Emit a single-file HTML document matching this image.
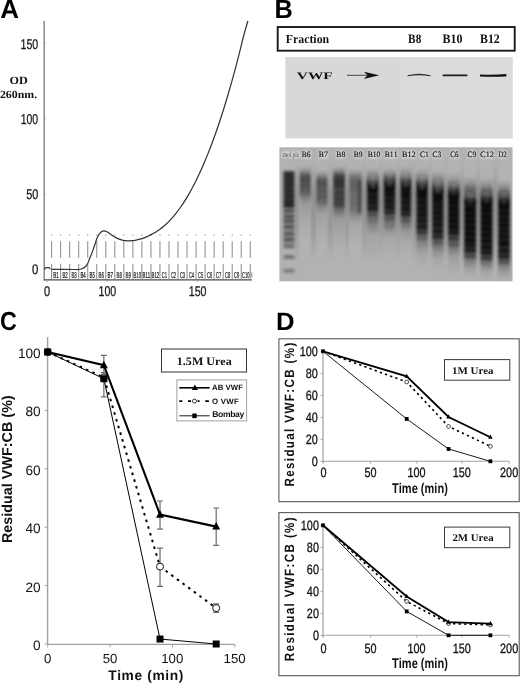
<!DOCTYPE html>
<html><head><meta charset="utf-8"><style>
html,body{margin:0;padding:0;background:#fff;width:520px;height:684px;overflow:hidden}
svg{display:block;filter:grayscale(1)}
text{font-kerning:none;font-variant-ligatures:none;text-rendering:geometricPrecision}
</style></head><body>
<svg width="520" height="684" viewBox="0 0 520 684">
<defs>
<filter id="lb" x="-30%" y="-30%" width="160%" height="160%"><feGaussianBlur stdDeviation="1.3 1.1"/></filter>
<filter id="lb2" x="-30%" y="-30%" width="160%" height="160%"><feGaussianBlur stdDeviation="1.8 1.5"/></filter>
<filter id="lb3" x="-30%" y="-30%" width="160%" height="160%"><feGaussianBlur stdDeviation="1.6 1.6"/></filter>
<filter id="bb" x="-20%" y="-100%" width="140%" height="300%"><feGaussianBlur stdDeviation="0.45"/></filter>
</defs>
<text transform="translate(0.25,17.6) scale(0.09858,0.100)" style="font-family:'Liberation Sans',sans-serif;font-size:263.09px;font-weight:bold;" fill="#000">A</text>
<line x1="44.2" y1="21" x2="44.2" y2="280.5" stroke="#8c8c8c" stroke-width="1.5"/>
<text transform="translate(20.6,48.76) scale(0.07476,0.100)" style="font-family:'Liberation Sans',sans-serif;font-size:141.24px;" fill="#1a1a1a" stroke="#1a1a1a" stroke-width="3">150</text>
<text transform="translate(20.7,123.86) scale(0.07356,0.100)" style="font-family:'Liberation Sans',sans-serif;font-size:142.65px;" fill="#1a1a1a" stroke="#1a1a1a" stroke-width="3">100</text>
<text transform="translate(26.17,199.26) scale(0.07675,0.100)" style="font-family:'Liberation Sans',sans-serif;font-size:141.24px;" fill="#1a1a1a" stroke="#1a1a1a" stroke-width="3">50</text>
<text transform="translate(32.06,274.06) scale(0.08161,0.100)" style="font-family:'Liberation Sans',sans-serif;font-size:138.42px;" fill="#1a1a1a" stroke="#1a1a1a" stroke-width="3">0</text>
<line x1="43" y1="43.4" x2="46" y2="43.4" stroke="#aaa" stroke-width="0.8"/>
<line x1="43" y1="118.8" x2="46" y2="118.8" stroke="#aaa" stroke-width="0.8"/>
<line x1="43" y1="194.3" x2="46" y2="194.3" stroke="#aaa" stroke-width="0.8"/>
<line x1="43" y1="269.3" x2="46" y2="269.3" stroke="#aaa" stroke-width="0.8"/>
<text transform="translate(9.4,84.19) scale(0.10924,0.100)" style="font-family:'Liberation Serif',serif;font-size:111.63px;font-weight:bold;" fill="#111">OD</text>
<text transform="translate(-0.1,98.14) scale(0.10737,0.100)" style="font-family:'Liberation Serif',serif;font-size:110.42px;font-weight:bold;" fill="#111">260nm.</text>
<line x1="44" y1="279.8" x2="251.8" y2="279.8" stroke="#4a4a4a" stroke-width="1.2"/>
<rect x="251.1" y="272.5" width="1.4" height="5" fill="#aaa"/>
<text transform="translate(44.07,295.76) scale(0.07850,0.100)" style="font-family:'Liberation Sans',sans-serif;font-size:141.24px;" fill="#1a1a1a" stroke="#1a1a1a" stroke-width="3">0</text>
<text transform="translate(98.49,295.76) scale(0.07447,0.100)" style="font-family:'Liberation Sans',sans-serif;font-size:142.65px;" fill="#1a1a1a" stroke="#1a1a1a" stroke-width="3">100</text>
<text transform="translate(188.79,295.76) scale(0.07521,0.100)" style="font-family:'Liberation Sans',sans-serif;font-size:141.24px;" fill="#1a1a1a" stroke="#1a1a1a" stroke-width="3">150</text>
<line x1="47.1" y1="280" x2="47.1" y2="282" stroke="#999" stroke-width="0.8"/>
<line x1="107.1" y1="280" x2="107.1" y2="282" stroke="#999" stroke-width="0.8"/>
<line x1="197.5" y1="280" x2="197.5" y2="282" stroke="#999" stroke-width="0.8"/>
<path d="M51.6,234.4V235.8M51.6,241.2V257.8M51.6,264V279.3M60.63,234.4V235.8M60.63,241.2V257.8M60.63,264V279.3M69.66,234.4V235.8M69.66,241.2V257.8M69.66,264V279.3M78.69,234.4V235.8M78.69,241.2V257.8M78.69,264V279.3M87.72,234.4V235.8M87.72,241.2V257.8M87.72,264V279.3M96.75,234.4V235.8M96.75,241.2V257.8M96.75,264V279.3M105.78,234.4V235.8M105.78,241.2V257.8M105.78,264V279.3M114.81,234.4V235.8M114.81,241.2V257.8M114.81,264V279.3M123.84,234.4V235.8M123.84,241.2V257.8M123.84,264V279.3M132.87,234.4V235.8M132.87,241.2V257.8M132.87,264V279.3M141.9,234.4V235.8M141.9,241.2V257.8M141.9,264V279.3M150.93,234.4V235.8M150.93,241.2V257.8M150.93,264V279.3M159.96,234.4V235.8M159.96,241.2V257.8M159.96,264V279.3M168.99,234.4V235.8M168.99,241.2V257.8M168.99,264V279.3M178.02,234.4V235.8M178.02,241.2V257.8M178.02,264V279.3M187.05,234.4V235.8M187.05,241.2V257.8M187.05,264V279.3M196.08,234.4V235.8M196.08,241.2V257.8M196.08,264V279.3M205.11,234.4V235.8M205.11,241.2V257.8M205.11,264V279.3M214.14,234.4V235.8M214.14,241.2V257.8M214.14,264V279.3M223.17,234.4V235.8M223.17,241.2V257.8M223.17,264V279.3M232.2,234.4V235.8M232.2,241.2V257.8M232.2,264V279.3M241.23,234.4V235.8M241.23,241.2V257.8M241.23,264V279.3M250.26,234.4V235.8M250.26,241.2V257.8M250.26,264V279.3" stroke="#8e8e8e" stroke-width="1.05" fill="none"/>
<text transform="translate(53.35,277.6) scale(0.05039,0.100)" style="font-family:'Liberation Sans',sans-serif;font-size:87.21px;" fill="#1a1a1a" stroke="#1a1a1a" stroke-width="2.5">B1</text>
<text transform="translate(62.38,277.6) scale(0.05121,0.100)" style="font-family:'Liberation Sans',sans-serif;font-size:85.93px;" fill="#1a1a1a" stroke="#1a1a1a" stroke-width="2.5">B2</text>
<text transform="translate(71.42,277.52) scale(0.05162,0.100)" style="font-family:'Liberation Sans',sans-serif;font-size:84.74px;" fill="#1a1a1a" stroke="#1a1a1a" stroke-width="2.5">B3</text>
<text transform="translate(80.45,277.6) scale(0.04950,0.100)" style="font-family:'Liberation Sans',sans-serif;font-size:87.21px;" fill="#1a1a1a" stroke="#1a1a1a" stroke-width="2.5">B4</text>
<text transform="translate(89.48,277.52) scale(0.05079,0.100)" style="font-family:'Liberation Sans',sans-serif;font-size:85.99px;" fill="#1a1a1a" stroke="#1a1a1a" stroke-width="2.5">B5</text>
<text transform="translate(98.51,277.52) scale(0.05162,0.100)" style="font-family:'Liberation Sans',sans-serif;font-size:84.74px;" fill="#1a1a1a" stroke="#1a1a1a" stroke-width="2.5">B6</text>
<text transform="translate(107.53,277.6) scale(0.05046,0.100)" style="font-family:'Liberation Sans',sans-serif;font-size:87.21px;" fill="#1a1a1a" stroke="#1a1a1a" stroke-width="2.5">B7</text>
<text transform="translate(116.57,277.52) scale(0.05160,0.100)" style="font-family:'Liberation Sans',sans-serif;font-size:84.74px;" fill="#1a1a1a" stroke="#1a1a1a" stroke-width="2.5">B8</text>
<text transform="translate(125.59,277.52) scale(0.05179,0.100)" style="font-family:'Liberation Sans',sans-serif;font-size:84.74px;" fill="#1a1a1a" stroke="#1a1a1a" stroke-width="2.5">B9</text>
<text transform="translate(133.54,277.52) scale(0.04981,0.100)" style="font-family:'Liberation Sans',sans-serif;font-size:84.74px;" fill="#1a1a1a" stroke="#1a1a1a" stroke-width="2.5">B10</text>
<text transform="translate(142.57,277.6) scale(0.04869,0.100)" style="font-family:'Liberation Sans',sans-serif;font-size:87.21px;" fill="#1a1a1a" stroke="#1a1a1a" stroke-width="2.5">B11</text>
<text transform="translate(151.6,277.6) scale(0.04946,0.100)" style="font-family:'Liberation Sans',sans-serif;font-size:85.93px;" fill="#1a1a1a" stroke="#1a1a1a" stroke-width="2.5">B12</text>
<text transform="translate(161.87,277.52) scale(0.04805,0.100)" style="font-family:'Liberation Sans',sans-serif;font-size:84.74px;" fill="#1a1a1a" stroke="#1a1a1a" stroke-width="2.5">C1</text>
<text transform="translate(170.9,277.52) scale(0.04811,0.100)" style="font-family:'Liberation Sans',sans-serif;font-size:84.74px;" fill="#1a1a1a" stroke="#1a1a1a" stroke-width="2.5">C2</text>
<text transform="translate(179.93,277.52) scale(0.04785,0.100)" style="font-family:'Liberation Sans',sans-serif;font-size:84.74px;" fill="#1a1a1a" stroke="#1a1a1a" stroke-width="2.5">C3</text>
<text transform="translate(188.96,277.52) scale(0.04727,0.100)" style="font-family:'Liberation Sans',sans-serif;font-size:84.74px;" fill="#1a1a1a" stroke="#1a1a1a" stroke-width="2.5">C4</text>
<text transform="translate(197.99,277.52) scale(0.04778,0.100)" style="font-family:'Liberation Sans',sans-serif;font-size:84.74px;" fill="#1a1a1a" stroke="#1a1a1a" stroke-width="2.5">C5</text>
<text transform="translate(207.02,277.52) scale(0.04785,0.100)" style="font-family:'Liberation Sans',sans-serif;font-size:84.74px;" fill="#1a1a1a" stroke="#1a1a1a" stroke-width="2.5">C6</text>
<text transform="translate(216.05,277.52) scale(0.04811,0.100)" style="font-family:'Liberation Sans',sans-serif;font-size:84.74px;" fill="#1a1a1a" stroke="#1a1a1a" stroke-width="2.5">C7</text>
<text transform="translate(225.08,277.52) scale(0.04784,0.100)" style="font-family:'Liberation Sans',sans-serif;font-size:84.74px;" fill="#1a1a1a" stroke="#1a1a1a" stroke-width="2.5">C8</text>
<text transform="translate(234.11,277.52) scale(0.04799,0.100)" style="font-family:'Liberation Sans',sans-serif;font-size:84.74px;" fill="#1a1a1a" stroke="#1a1a1a" stroke-width="2.5">C9</text>
<text transform="translate(242.04,277.52) scale(0.04735,0.100)" style="font-family:'Liberation Sans',sans-serif;font-size:84.74px;" fill="#1a1a1a" stroke="#1a1a1a" stroke-width="2.5">C10</text>
<path d="M44.4,269.3 C44.7,267.9 45.3,267.7 46.5,267.7 L48.8,267.7 C49.5,267.8 49.8,268.4 50.2,269.2" fill="none" stroke="#333" stroke-width="1.2"/>
<path d="M51.3,269.3 C55.25,269.33 70.42,269.47 75,269.5 C79.58,269.53 77.52,269.67 78.8,269.5 C80.08,269.33 81.53,269.05 82.7,268.5 C83.87,267.95 84.97,267.03 85.8,266.2 C86.63,265.37 87.13,264.6 87.7,263.5 C88.27,262.4 88.68,260.88 89.2,259.6 C89.72,258.32 90.28,257.08 90.8,255.8 C91.32,254.52 91.8,253.25 92.3,251.9 C92.8,250.55 93.28,249.17 93.8,247.7 C94.32,246.23 94.88,244.63 95.4,243.1 C95.92,241.57 96.33,239.92 96.9,238.5 C97.47,237.08 98.08,235.7 98.8,234.6 C99.52,233.5 100.37,232.53 101.2,231.9 C102.03,231.27 102.92,230.87 103.8,230.8 C104.68,230.73 105.53,231.05 106.5,231.5 C107.47,231.95 108.43,232.72 109.6,233.5 C110.77,234.28 112.02,235.3 113.5,236.2 C114.98,237.1 116.9,238.22 118.5,238.9 C120.1,239.58 121.57,239.98 123.1,240.3 C124.63,240.62 126.22,240.73 127.7,240.8 C129.18,240.87 130.62,240.82 132,240.7 C133.38,240.58 134.67,240.33 136,240.07 C137.33,239.81 138.67,239.51 140,239.15 C141.33,238.78 142.67,238.36 144,237.87 C145.33,237.39 146.67,236.84 148,236.22 C149.33,235.6 150.67,234.87 152,234.16 C153.33,233.44 154.67,232.74 156,231.92 C157.33,231.09 158.67,230.2 160,229.21 C161.33,228.23 162.67,227.17 164,226.03 C165.33,224.88 166.67,223.65 168,222.33 C169.33,221.01 170.67,219.61 172,218.11 C173.33,216.61 174.67,215.02 176,213.34 C177.33,211.66 178.67,209.88 180,208.01 C181.33,206.14 182.67,204.17 184,202.1 C185.33,200.03 186.67,197.87 188,195.6 C189.33,193.33 190.67,190.96 192,188.48 C193.33,186.01 194.67,183.43 196,180.74 C197.33,178.05 198.67,175.26 200,172.36 C201.33,169.46 202.67,166.45 204,163.33 C205.33,160.21 206.67,156.98 208,153.64 C209.33,150.29 210.67,146.83 212,143.26 C213.33,139.69 214.67,136 216,132.2 C217.33,128.39 218.67,124.47 220,120.43 C221.33,116.39 222.67,112.23 224,107.95 C225.33,103.67 226.67,99.27 228,94.74 C229.33,90.22 230.67,85.57 232,80.8 C233.33,76.03 234.67,71.13 236,66.11 C237.33,61.09 238.67,55.94 240,50.66 C241.33,45.39 242.68,39.41 244,34.45 C245.32,29.49 247.25,23.16 247.9,20.9" fill="none" stroke="#353535" stroke-width="1.25"/>
<text transform="translate(274.61,17.7) scale(0.09545,0.100)" style="font-family:'Liberation Sans',sans-serif;font-size:264.54px;font-weight:bold;" fill="#000">B</text>
<rect x="277.7" y="27" width="237" height="23.7" fill="none" stroke="#1a1a1a" stroke-width="1.9"/>
<text transform="translate(285.7,42.9) scale(0.09589,0.100)" style="font-family:'Liberation Serif',serif;font-size:123.7px;font-weight:bold;" fill="#111">Fraction</text>
<text transform="translate(408.11,43.26) scale(0.08727,0.100)" style="font-family:'Liberation Serif',serif;font-size:129.24px;font-weight:bold;" fill="#111">B8</text>
<text transform="translate(442.5,43.26) scale(0.09311,0.100)" style="font-family:'Liberation Serif',serif;font-size:129.24px;font-weight:bold;" fill="#111">B10</text>
<text transform="translate(480,43.26) scale(0.09194,0.100)" style="font-family:'Liberation Serif',serif;font-size:129.24px;font-weight:bold;" fill="#111">B12</text>
<rect x="285.3" y="57" width="227.2" height="81.3" fill="#d8d8d8"/>
<rect x="400" y="58" width="112.5" height="80.3" fill="#dbdbdb"/>
<text transform="translate(296.83,78.6) scale(0.15276,0.100)" style="font-family:'Liberation Serif',serif;font-size:100.76px;font-weight:bold;" fill="#111">VWF</text>
<line x1="347" y1="75.3" x2="370" y2="75.3" stroke="#222" stroke-width="0.8"/>
<path d="M363.8,71.7 L379.2,75.3 L363.8,79 L367.6,75.3 Z" fill="#111"/>
<g filter="url(#bb)">
<path d="M407.5,75.3 Q419,72.2 430.5,75.3 L430.5,76.3 Q419,74.4 407.5,76.3 Z" fill="#2a2a2a"/>
<rect x="442.5" y="74.4" width="25" height="1.9" rx="0.9" fill="#1c1c1c"/>
<path d="M480,74.4 Q493,75.0 506.3,74.1 L506.3,76.4 Q493,77.3 480,76.4 Z" fill="#111"/>
</g>
<rect x="279.4" y="147.3" width="233.1" height="134" fill="#b2b2b2"/>
<defs><style>stop{stop-color:#000}</style><linearGradient id="g0" x1="0" y1="166" x2="0" y2="240" gradientUnits="userSpaceOnUse"><stop offset="0" stop-opacity="0"/><stop offset="0.01" stop-opacity="0.04"/><stop offset="0.03" stop-opacity="0.08"/><stop offset="0.04" stop-opacity="0.12"/><stop offset="0.05" stop-opacity="0.16"/><stop offset="0.07" stop-opacity="0.2"/><stop offset="0.08" stop-opacity="0.28"/><stop offset="0.09" stop-opacity="0.35"/><stop offset="0.11" stop-opacity="0.42"/><stop offset="0.12" stop-opacity="0.5"/><stop offset="0.14" stop-opacity="0.52"/><stop offset="0.15" stop-opacity="0.53"/><stop offset="0.16" stop-opacity="0.55"/><stop offset="0.18" stop-opacity="0.56"/><stop offset="0.19" stop-opacity="0.58"/><stop offset="0.2" stop-opacity="0.57"/><stop offset="0.22" stop-opacity="0.52"/><stop offset="0.23" stop-opacity="0.48"/><stop offset="0.24" stop-opacity="0.51"/><stop offset="0.26" stop-opacity="0.55"/><stop offset="0.27" stop-opacity="0.56"/><stop offset="0.28" stop-opacity="0.55"/><stop offset="0.3" stop-opacity="0.5"/><stop offset="0.31" stop-opacity="0.46"/><stop offset="0.32" stop-opacity="0.5"/><stop offset="0.34" stop-opacity="0.5"/><stop offset="0.35" stop-opacity="0.48"/><stop offset="0.36" stop-opacity="0.44"/><stop offset="0.38" stop-opacity="0.41"/><stop offset="0.39" stop-opacity="0.37"/><stop offset="0.41" stop-opacity="0.34"/><stop offset="0.42" stop-opacity="0.3"/><stop offset="0.43" stop-opacity="0.28"/><stop offset="0.45" stop-opacity="0.26"/><stop offset="0.46" stop-opacity="0.23"/><stop offset="0.47" stop-opacity="0.21"/><stop offset="0.49" stop-opacity="0.19"/><stop offset="0.5" stop-opacity="0.16"/><stop offset="0.51" stop-opacity="0.14"/><stop offset="0.53" stop-opacity="0.12"/><stop offset="0.54" stop-opacity="0.12"/><stop offset="0.55" stop-opacity="0.11"/><stop offset="0.57" stop-opacity="0.11"/><stop offset="0.58" stop-opacity="0.1"/><stop offset="0.59" stop-opacity="0.1"/><stop offset="0.61" stop-opacity="0.1"/><stop offset="0.62" stop-opacity="0.09"/><stop offset="0.64" stop-opacity="0.09"/><stop offset="0.65" stop-opacity="0.08"/><stop offset="0.66" stop-opacity="0.08"/><stop offset="0.68" stop-opacity="0.08"/><stop offset="0.69" stop-opacity="0.07"/><stop offset="0.7" stop-opacity="0.07"/><stop offset="0.72" stop-opacity="0.06"/><stop offset="0.73" stop-opacity="0.06"/><stop offset="0.74" stop-opacity="0.06"/><stop offset="0.76" stop-opacity="0.05"/><stop offset="0.77" stop-opacity="0.05"/><stop offset="0.78" stop-opacity="0.04"/><stop offset="0.8" stop-opacity="0.04"/><stop offset="0.81" stop-opacity="0.04"/><stop offset="0.82" stop-opacity="0.03"/><stop offset="0.84" stop-opacity="0.03"/><stop offset="0.85" stop-opacity="0.03"/><stop offset="0.86" stop-opacity="0.03"/><stop offset="0.88" stop-opacity="0.02"/><stop offset="0.89" stop-opacity="0.02"/><stop offset="0.91" stop-opacity="0.02"/><stop offset="0.92" stop-opacity="0.02"/><stop offset="0.93" stop-opacity="0.01"/><stop offset="0.95" stop-opacity="0.01"/><stop offset="0.96" stop-opacity="0.01"/><stop offset="0.97" stop-opacity="0.01"/><stop offset="0.99" stop-opacity="0"/><stop offset="1" stop-opacity="0"/></linearGradient><linearGradient id="g1" x1="0" y1="170" x2="0" y2="245" gradientUnits="userSpaceOnUse"><stop offset="0" stop-opacity="0"/><stop offset="0.01" stop-opacity="0.04"/><stop offset="0.03" stop-opacity="0.08"/><stop offset="0.04" stop-opacity="0.12"/><stop offset="0.05" stop-opacity="0.16"/><stop offset="0.07" stop-opacity="0.2"/><stop offset="0.08" stop-opacity="0.27"/><stop offset="0.09" stop-opacity="0.34"/><stop offset="0.11" stop-opacity="0.41"/><stop offset="0.12" stop-opacity="0.48"/><stop offset="0.13" stop-opacity="0.49"/><stop offset="0.15" stop-opacity="0.51"/><stop offset="0.16" stop-opacity="0.52"/><stop offset="0.17" stop-opacity="0.54"/><stop offset="0.19" stop-opacity="0.55"/><stop offset="0.2" stop-opacity="0.55"/><stop offset="0.21" stop-opacity="0.53"/><stop offset="0.23" stop-opacity="0.49"/><stop offset="0.24" stop-opacity="0.45"/><stop offset="0.25" stop-opacity="0.48"/><stop offset="0.27" stop-opacity="0.52"/><stop offset="0.28" stop-opacity="0.53"/><stop offset="0.29" stop-opacity="0.51"/><stop offset="0.31" stop-opacity="0.47"/><stop offset="0.32" stop-opacity="0.44"/><stop offset="0.33" stop-opacity="0.47"/><stop offset="0.35" stop-opacity="0.5"/><stop offset="0.36" stop-opacity="0.51"/><stop offset="0.37" stop-opacity="0.5"/><stop offset="0.39" stop-opacity="0.45"/><stop offset="0.4" stop-opacity="0.42"/><stop offset="0.41" stop-opacity="0.42"/><stop offset="0.43" stop-opacity="0.42"/><stop offset="0.44" stop-opacity="0.39"/><stop offset="0.45" stop-opacity="0.36"/><stop offset="0.47" stop-opacity="0.32"/><stop offset="0.48" stop-opacity="0.29"/><stop offset="0.49" stop-opacity="0.25"/><stop offset="0.51" stop-opacity="0.23"/><stop offset="0.52" stop-opacity="0.21"/><stop offset="0.53" stop-opacity="0.19"/><stop offset="0.55" stop-opacity="0.16"/><stop offset="0.56" stop-opacity="0.14"/><stop offset="0.57" stop-opacity="0.12"/><stop offset="0.59" stop-opacity="0.1"/><stop offset="0.6" stop-opacity="0.1"/><stop offset="0.61" stop-opacity="0.09"/><stop offset="0.63" stop-opacity="0.09"/><stop offset="0.64" stop-opacity="0.09"/><stop offset="0.65" stop-opacity="0.08"/><stop offset="0.67" stop-opacity="0.08"/><stop offset="0.68" stop-opacity="0.08"/><stop offset="0.69" stop-opacity="0.07"/><stop offset="0.71" stop-opacity="0.07"/><stop offset="0.72" stop-opacity="0.07"/><stop offset="0.73" stop-opacity="0.06"/><stop offset="0.75" stop-opacity="0.06"/><stop offset="0.76" stop-opacity="0.06"/><stop offset="0.77" stop-opacity="0.05"/><stop offset="0.79" stop-opacity="0.05"/><stop offset="0.8" stop-opacity="0.05"/><stop offset="0.81" stop-opacity="0.04"/><stop offset="0.83" stop-opacity="0.04"/><stop offset="0.84" stop-opacity="0.04"/><stop offset="0.85" stop-opacity="0.03"/><stop offset="0.87" stop-opacity="0.03"/><stop offset="0.88" stop-opacity="0.03"/><stop offset="0.89" stop-opacity="0.02"/><stop offset="0.91" stop-opacity="0.02"/><stop offset="0.92" stop-opacity="0.02"/><stop offset="0.93" stop-opacity="0.01"/><stop offset="0.95" stop-opacity="0.01"/><stop offset="0.96" stop-opacity="0.01"/><stop offset="0.97" stop-opacity="0.01"/><stop offset="0.99" stop-opacity="0"/><stop offset="1" stop-opacity="0"/></linearGradient><linearGradient id="g2" x1="0" y1="166" x2="0" y2="250" gradientUnits="userSpaceOnUse"><stop offset="0" stop-opacity="0"/><stop offset="0.01" stop-opacity="0.04"/><stop offset="0.02" stop-opacity="0.09"/><stop offset="0.04" stop-opacity="0.13"/><stop offset="0.05" stop-opacity="0.18"/><stop offset="0.06" stop-opacity="0.22"/><stop offset="0.07" stop-opacity="0.32"/><stop offset="0.08" stop-opacity="0.41"/><stop offset="0.1" stop-opacity="0.51"/><stop offset="0.11" stop-opacity="0.6"/><stop offset="0.12" stop-opacity="0.62"/><stop offset="0.13" stop-opacity="0.65"/><stop offset="0.14" stop-opacity="0.67"/><stop offset="0.15" stop-opacity="0.7"/><stop offset="0.17" stop-opacity="0.72"/><stop offset="0.18" stop-opacity="0.72"/><stop offset="0.19" stop-opacity="0.72"/><stop offset="0.2" stop-opacity="0.72"/><stop offset="0.21" stop-opacity="0.72"/><stop offset="0.23" stop-opacity="0.72"/><stop offset="0.24" stop-opacity="0.71"/><stop offset="0.25" stop-opacity="0.71"/><stop offset="0.26" stop-opacity="0.69"/><stop offset="0.27" stop-opacity="0.63"/><stop offset="0.29" stop-opacity="0.57"/><stop offset="0.3" stop-opacity="0.63"/><stop offset="0.31" stop-opacity="0.69"/><stop offset="0.32" stop-opacity="0.71"/><stop offset="0.33" stop-opacity="0.69"/><stop offset="0.35" stop-opacity="0.62"/><stop offset="0.36" stop-opacity="0.57"/><stop offset="0.37" stop-opacity="0.62"/><stop offset="0.38" stop-opacity="0.69"/><stop offset="0.39" stop-opacity="0.7"/><stop offset="0.4" stop-opacity="0.69"/><stop offset="0.42" stop-opacity="0.62"/><stop offset="0.43" stop-opacity="0.56"/><stop offset="0.44" stop-opacity="0.62"/><stop offset="0.45" stop-opacity="0.68"/><stop offset="0.46" stop-opacity="0.65"/><stop offset="0.48" stop-opacity="0.59"/><stop offset="0.49" stop-opacity="0.5"/><stop offset="0.5" stop-opacity="0.41"/><stop offset="0.51" stop-opacity="0.41"/><stop offset="0.52" stop-opacity="0.41"/><stop offset="0.54" stop-opacity="0.38"/><stop offset="0.55" stop-opacity="0.35"/><stop offset="0.56" stop-opacity="0.31"/><stop offset="0.57" stop-opacity="0.28"/><stop offset="0.58" stop-opacity="0.24"/><stop offset="0.6" stop-opacity="0.21"/><stop offset="0.61" stop-opacity="0.17"/><stop offset="0.62" stop-opacity="0.14"/><stop offset="0.63" stop-opacity="0.14"/><stop offset="0.64" stop-opacity="0.13"/><stop offset="0.65" stop-opacity="0.13"/><stop offset="0.67" stop-opacity="0.12"/><stop offset="0.68" stop-opacity="0.12"/><stop offset="0.69" stop-opacity="0.11"/><stop offset="0.7" stop-opacity="0.11"/><stop offset="0.71" stop-opacity="0.1"/><stop offset="0.73" stop-opacity="0.1"/><stop offset="0.74" stop-opacity="0.09"/><stop offset="0.75" stop-opacity="0.09"/><stop offset="0.76" stop-opacity="0.09"/><stop offset="0.77" stop-opacity="0.08"/><stop offset="0.79" stop-opacity="0.08"/><stop offset="0.8" stop-opacity="0.07"/><stop offset="0.81" stop-opacity="0.07"/><stop offset="0.82" stop-opacity="0.06"/><stop offset="0.83" stop-opacity="0.06"/><stop offset="0.85" stop-opacity="0.05"/><stop offset="0.86" stop-opacity="0.05"/><stop offset="0.87" stop-opacity="0.04"/><stop offset="0.88" stop-opacity="0.04"/><stop offset="0.89" stop-opacity="0.04"/><stop offset="0.9" stop-opacity="0.03"/><stop offset="0.92" stop-opacity="0.03"/><stop offset="0.93" stop-opacity="0.02"/><stop offset="0.94" stop-opacity="0.02"/><stop offset="0.95" stop-opacity="0.02"/><stop offset="0.96" stop-opacity="0.01"/><stop offset="0.98" stop-opacity="0.01"/><stop offset="0.99" stop-opacity="0"/><stop offset="1" stop-opacity="0"/></linearGradient><linearGradient id="g3" x1="0" y1="168" x2="0" y2="245" gradientUnits="userSpaceOnUse"><stop offset="0" stop-opacity="0"/><stop offset="0.01" stop-opacity="0.03"/><stop offset="0.03" stop-opacity="0.06"/><stop offset="0.04" stop-opacity="0.09"/><stop offset="0.05" stop-opacity="0.12"/><stop offset="0.06" stop-opacity="0.15"/><stop offset="0.08" stop-opacity="0.21"/><stop offset="0.09" stop-opacity="0.27"/><stop offset="0.1" stop-opacity="0.32"/><stop offset="0.12" stop-opacity="0.38"/><stop offset="0.13" stop-opacity="0.39"/><stop offset="0.14" stop-opacity="0.41"/><stop offset="0.16" stop-opacity="0.42"/><stop offset="0.17" stop-opacity="0.44"/><stop offset="0.18" stop-opacity="0.45"/><stop offset="0.19" stop-opacity="0.45"/><stop offset="0.21" stop-opacity="0.45"/><stop offset="0.22" stop-opacity="0.45"/><stop offset="0.23" stop-opacity="0.45"/><stop offset="0.25" stop-opacity="0.44"/><stop offset="0.26" stop-opacity="0.44"/><stop offset="0.27" stop-opacity="0.44"/><stop offset="0.29" stop-opacity="0.44"/><stop offset="0.3" stop-opacity="0.44"/><stop offset="0.31" stop-opacity="0.44"/><stop offset="0.32" stop-opacity="0.43"/><stop offset="0.34" stop-opacity="0.39"/><stop offset="0.35" stop-opacity="0.37"/><stop offset="0.36" stop-opacity="0.39"/><stop offset="0.38" stop-opacity="0.42"/><stop offset="0.39" stop-opacity="0.43"/><stop offset="0.4" stop-opacity="0.42"/><stop offset="0.42" stop-opacity="0.39"/><stop offset="0.43" stop-opacity="0.36"/><stop offset="0.44" stop-opacity="0.39"/><stop offset="0.45" stop-opacity="0.42"/><stop offset="0.47" stop-opacity="0.42"/><stop offset="0.48" stop-opacity="0.41"/><stop offset="0.49" stop-opacity="0.38"/><stop offset="0.51" stop-opacity="0.35"/><stop offset="0.52" stop-opacity="0.38"/><stop offset="0.53" stop-opacity="0.38"/><stop offset="0.55" stop-opacity="0.36"/><stop offset="0.56" stop-opacity="0.34"/><stop offset="0.57" stop-opacity="0.31"/><stop offset="0.58" stop-opacity="0.28"/><stop offset="0.6" stop-opacity="0.25"/><stop offset="0.61" stop-opacity="0.23"/><stop offset="0.62" stop-opacity="0.2"/><stop offset="0.64" stop-opacity="0.18"/><stop offset="0.65" stop-opacity="0.17"/><stop offset="0.66" stop-opacity="0.15"/><stop offset="0.68" stop-opacity="0.14"/><stop offset="0.69" stop-opacity="0.12"/><stop offset="0.7" stop-opacity="0.1"/><stop offset="0.71" stop-opacity="0.09"/><stop offset="0.73" stop-opacity="0.07"/><stop offset="0.74" stop-opacity="0.07"/><stop offset="0.75" stop-opacity="0.06"/><stop offset="0.77" stop-opacity="0.06"/><stop offset="0.78" stop-opacity="0.06"/><stop offset="0.79" stop-opacity="0.05"/><stop offset="0.81" stop-opacity="0.05"/><stop offset="0.82" stop-opacity="0.05"/><stop offset="0.83" stop-opacity="0.04"/><stop offset="0.84" stop-opacity="0.04"/><stop offset="0.86" stop-opacity="0.04"/><stop offset="0.87" stop-opacity="0.03"/><stop offset="0.88" stop-opacity="0.03"/><stop offset="0.9" stop-opacity="0.03"/><stop offset="0.91" stop-opacity="0.02"/><stop offset="0.92" stop-opacity="0.02"/><stop offset="0.94" stop-opacity="0.02"/><stop offset="0.95" stop-opacity="0.01"/><stop offset="0.96" stop-opacity="0.01"/><stop offset="0.97" stop-opacity="0.01"/><stop offset="0.99" stop-opacity="0"/><stop offset="1" stop-opacity="0"/></linearGradient><linearGradient id="g4" x1="0" y1="168" x2="0" y2="262" gradientUnits="userSpaceOnUse"><stop offset="0" stop-opacity="0"/><stop offset="0.01" stop-opacity="0.03"/><stop offset="0.02" stop-opacity="0.06"/><stop offset="0.03" stop-opacity="0.09"/><stop offset="0.04" stop-opacity="0.12"/><stop offset="0.05" stop-opacity="0.15"/><stop offset="0.06" stop-opacity="0.21"/><stop offset="0.07" stop-opacity="0.27"/><stop offset="0.09" stop-opacity="0.33"/><stop offset="0.1" stop-opacity="0.39"/><stop offset="0.11" stop-opacity="0.45"/><stop offset="0.12" stop-opacity="0.54"/><stop offset="0.13" stop-opacity="0.62"/><stop offset="0.14" stop-opacity="0.71"/><stop offset="0.15" stop-opacity="0.8"/><stop offset="0.16" stop-opacity="0.83"/><stop offset="0.17" stop-opacity="0.86"/><stop offset="0.18" stop-opacity="0.89"/><stop offset="0.19" stop-opacity="0.92"/><stop offset="0.2" stop-opacity="0.92"/><stop offset="0.21" stop-opacity="0.92"/><stop offset="0.22" stop-opacity="0.92"/><stop offset="0.23" stop-opacity="0.92"/><stop offset="0.24" stop-opacity="0.92"/><stop offset="0.26" stop-opacity="0.91"/><stop offset="0.27" stop-opacity="0.85"/><stop offset="0.28" stop-opacity="0.81"/><stop offset="0.29" stop-opacity="0.85"/><stop offset="0.3" stop-opacity="0.91"/><stop offset="0.31" stop-opacity="0.92"/><stop offset="0.32" stop-opacity="0.9"/><stop offset="0.33" stop-opacity="0.84"/><stop offset="0.34" stop-opacity="0.78"/><stop offset="0.35" stop-opacity="0.84"/><stop offset="0.36" stop-opacity="0.9"/><stop offset="0.37" stop-opacity="0.92"/><stop offset="0.38" stop-opacity="0.89"/><stop offset="0.39" stop-opacity="0.8"/><stop offset="0.4" stop-opacity="0.72"/><stop offset="0.41" stop-opacity="0.8"/><stop offset="0.43" stop-opacity="0.89"/><stop offset="0.44" stop-opacity="0.86"/><stop offset="0.45" stop-opacity="0.78"/><stop offset="0.46" stop-opacity="0.62"/><stop offset="0.47" stop-opacity="0.49"/><stop offset="0.48" stop-opacity="0.53"/><stop offset="0.49" stop-opacity="0.6"/><stop offset="0.5" stop-opacity="0.59"/><stop offset="0.51" stop-opacity="0.54"/><stop offset="0.52" stop-opacity="0.43"/><stop offset="0.53" stop-opacity="0.34"/><stop offset="0.54" stop-opacity="0.39"/><stop offset="0.55" stop-opacity="0.43"/><stop offset="0.56" stop-opacity="0.42"/><stop offset="0.57" stop-opacity="0.38"/><stop offset="0.59" stop-opacity="0.3"/><stop offset="0.6" stop-opacity="0.23"/><stop offset="0.61" stop-opacity="0.25"/><stop offset="0.62" stop-opacity="0.27"/><stop offset="0.63" stop-opacity="0.25"/><stop offset="0.64" stop-opacity="0.22"/><stop offset="0.65" stop-opacity="0.2"/><stop offset="0.66" stop-opacity="0.18"/><stop offset="0.67" stop-opacity="0.17"/><stop offset="0.68" stop-opacity="0.15"/><stop offset="0.69" stop-opacity="0.13"/><stop offset="0.7" stop-opacity="0.11"/><stop offset="0.71" stop-opacity="0.1"/><stop offset="0.72" stop-opacity="0.08"/><stop offset="0.73" stop-opacity="0.08"/><stop offset="0.74" stop-opacity="0.07"/><stop offset="0.76" stop-opacity="0.07"/><stop offset="0.77" stop-opacity="0.07"/><stop offset="0.78" stop-opacity="0.07"/><stop offset="0.79" stop-opacity="0.06"/><stop offset="0.8" stop-opacity="0.06"/><stop offset="0.81" stop-opacity="0.06"/><stop offset="0.82" stop-opacity="0.06"/><stop offset="0.83" stop-opacity="0.05"/><stop offset="0.84" stop-opacity="0.05"/><stop offset="0.85" stop-opacity="0.05"/><stop offset="0.86" stop-opacity="0.05"/><stop offset="0.87" stop-opacity="0.04"/><stop offset="0.88" stop-opacity="0.04"/><stop offset="0.89" stop-opacity="0.04"/><stop offset="0.9" stop-opacity="0.04"/><stop offset="0.91" stop-opacity="0.03"/><stop offset="0.93" stop-opacity="0.03"/><stop offset="0.94" stop-opacity="0.03"/><stop offset="0.95" stop-opacity="0.02"/><stop offset="0.96" stop-opacity="0.02"/><stop offset="0.97" stop-opacity="0.01"/><stop offset="0.98" stop-opacity="0.01"/><stop offset="0.99" stop-opacity="0"/><stop offset="1" stop-opacity="0"/></linearGradient><linearGradient id="g5" x1="0" y1="168" x2="0" y2="258" gradientUnits="userSpaceOnUse"><stop offset="0" stop-opacity="0"/><stop offset="0.01" stop-opacity="0.04"/><stop offset="0.02" stop-opacity="0.07"/><stop offset="0.03" stop-opacity="0.11"/><stop offset="0.04" stop-opacity="0.15"/><stop offset="0.06" stop-opacity="0.24"/><stop offset="0.07" stop-opacity="0.32"/><stop offset="0.08" stop-opacity="0.41"/><stop offset="0.09" stop-opacity="0.5"/><stop offset="0.1" stop-opacity="0.58"/><stop offset="0.11" stop-opacity="0.66"/><stop offset="0.12" stop-opacity="0.74"/><stop offset="0.13" stop-opacity="0.82"/><stop offset="0.14" stop-opacity="0.84"/><stop offset="0.16" stop-opacity="0.87"/><stop offset="0.17" stop-opacity="0.9"/><stop offset="0.18" stop-opacity="0.92"/><stop offset="0.19" stop-opacity="0.92"/><stop offset="0.2" stop-opacity="0.92"/><stop offset="0.21" stop-opacity="0.92"/><stop offset="0.22" stop-opacity="0.92"/><stop offset="0.23" stop-opacity="0.92"/><stop offset="0.24" stop-opacity="0.92"/><stop offset="0.26" stop-opacity="0.91"/><stop offset="0.27" stop-opacity="0.91"/><stop offset="0.28" stop-opacity="0.91"/><stop offset="0.29" stop-opacity="0.91"/><stop offset="0.3" stop-opacity="0.91"/><stop offset="0.31" stop-opacity="0.9"/><stop offset="0.32" stop-opacity="0.84"/><stop offset="0.33" stop-opacity="0.8"/><stop offset="0.34" stop-opacity="0.84"/><stop offset="0.36" stop-opacity="0.89"/><stop offset="0.37" stop-opacity="0.9"/><stop offset="0.38" stop-opacity="0.89"/><stop offset="0.39" stop-opacity="0.81"/><stop offset="0.4" stop-opacity="0.74"/><stop offset="0.41" stop-opacity="0.81"/><stop offset="0.42" stop-opacity="0.88"/><stop offset="0.43" stop-opacity="0.9"/><stop offset="0.44" stop-opacity="0.87"/><stop offset="0.46" stop-opacity="0.77"/><stop offset="0.47" stop-opacity="0.68"/><stop offset="0.48" stop-opacity="0.76"/><stop offset="0.49" stop-opacity="0.83"/><stop offset="0.5" stop-opacity="0.8"/><stop offset="0.51" stop-opacity="0.73"/><stop offset="0.52" stop-opacity="0.58"/><stop offset="0.53" stop-opacity="0.45"/><stop offset="0.54" stop-opacity="0.5"/><stop offset="0.56" stop-opacity="0.56"/><stop offset="0.57" stop-opacity="0.55"/><stop offset="0.58" stop-opacity="0.5"/><stop offset="0.59" stop-opacity="0.4"/><stop offset="0.6" stop-opacity="0.31"/><stop offset="0.61" stop-opacity="0.34"/><stop offset="0.62" stop-opacity="0.38"/><stop offset="0.63" stop-opacity="0.36"/><stop offset="0.64" stop-opacity="0.33"/><stop offset="0.66" stop-opacity="0.3"/><stop offset="0.67" stop-opacity="0.27"/><stop offset="0.68" stop-opacity="0.23"/><stop offset="0.69" stop-opacity="0.2"/><stop offset="0.7" stop-opacity="0.17"/><stop offset="0.71" stop-opacity="0.14"/><stop offset="0.72" stop-opacity="0.13"/><stop offset="0.73" stop-opacity="0.12"/><stop offset="0.74" stop-opacity="0.11"/><stop offset="0.76" stop-opacity="0.1"/><stop offset="0.77" stop-opacity="0.08"/><stop offset="0.78" stop-opacity="0.07"/><stop offset="0.79" stop-opacity="0.06"/><stop offset="0.8" stop-opacity="0.05"/><stop offset="0.81" stop-opacity="0.05"/><stop offset="0.82" stop-opacity="0.04"/><stop offset="0.83" stop-opacity="0.04"/><stop offset="0.84" stop-opacity="0.04"/><stop offset="0.86" stop-opacity="0.04"/><stop offset="0.87" stop-opacity="0.03"/><stop offset="0.88" stop-opacity="0.03"/><stop offset="0.89" stop-opacity="0.03"/><stop offset="0.9" stop-opacity="0.03"/><stop offset="0.91" stop-opacity="0.02"/><stop offset="0.92" stop-opacity="0.02"/><stop offset="0.93" stop-opacity="0.02"/><stop offset="0.94" stop-opacity="0.01"/><stop offset="0.96" stop-opacity="0.01"/><stop offset="0.97" stop-opacity="0.01"/><stop offset="0.98" stop-opacity="0.01"/><stop offset="0.99" stop-opacity="0"/><stop offset="1" stop-opacity="0"/></linearGradient><linearGradient id="g6" x1="0" y1="166" x2="0" y2="258" gradientUnits="userSpaceOnUse"><stop offset="0" stop-opacity="0"/><stop offset="0.01" stop-opacity="0.02"/><stop offset="0.02" stop-opacity="0.05"/><stop offset="0.03" stop-opacity="0.07"/><stop offset="0.04" stop-opacity="0.1"/><stop offset="0.05" stop-opacity="0.12"/><stop offset="0.07" stop-opacity="0.15"/><stop offset="0.08" stop-opacity="0.21"/><stop offset="0.09" stop-opacity="0.27"/><stop offset="0.1" stop-opacity="0.33"/><stop offset="0.11" stop-opacity="0.39"/><stop offset="0.12" stop-opacity="0.45"/><stop offset="0.13" stop-opacity="0.54"/><stop offset="0.14" stop-opacity="0.64"/><stop offset="0.15" stop-opacity="0.73"/><stop offset="0.16" stop-opacity="0.82"/><stop offset="0.17" stop-opacity="0.84"/><stop offset="0.18" stop-opacity="0.87"/><stop offset="0.2" stop-opacity="0.9"/><stop offset="0.21" stop-opacity="0.92"/><stop offset="0.22" stop-opacity="0.92"/><stop offset="0.23" stop-opacity="0.92"/><stop offset="0.24" stop-opacity="0.92"/><stop offset="0.25" stop-opacity="0.92"/><stop offset="0.26" stop-opacity="0.92"/><stop offset="0.27" stop-opacity="0.92"/><stop offset="0.28" stop-opacity="0.92"/><stop offset="0.29" stop-opacity="0.91"/><stop offset="0.3" stop-opacity="0.91"/><stop offset="0.32" stop-opacity="0.91"/><stop offset="0.33" stop-opacity="0.91"/><stop offset="0.34" stop-opacity="0.91"/><stop offset="0.35" stop-opacity="0.9"/><stop offset="0.36" stop-opacity="0.86"/><stop offset="0.37" stop-opacity="0.82"/><stop offset="0.38" stop-opacity="0.85"/><stop offset="0.39" stop-opacity="0.9"/><stop offset="0.4" stop-opacity="0.91"/><stop offset="0.41" stop-opacity="0.89"/><stop offset="0.42" stop-opacity="0.84"/><stop offset="0.43" stop-opacity="0.8"/><stop offset="0.45" stop-opacity="0.84"/><stop offset="0.46" stop-opacity="0.89"/><stop offset="0.47" stop-opacity="0.9"/><stop offset="0.48" stop-opacity="0.88"/><stop offset="0.49" stop-opacity="0.79"/><stop offset="0.5" stop-opacity="0.72"/><stop offset="0.51" stop-opacity="0.79"/><stop offset="0.52" stop-opacity="0.88"/><stop offset="0.53" stop-opacity="0.84"/><stop offset="0.54" stop-opacity="0.76"/><stop offset="0.55" stop-opacity="0.6"/><stop offset="0.57" stop-opacity="0.47"/><stop offset="0.58" stop-opacity="0.51"/><stop offset="0.59" stop-opacity="0.56"/><stop offset="0.6" stop-opacity="0.54"/><stop offset="0.61" stop-opacity="0.49"/><stop offset="0.62" stop-opacity="0.38"/><stop offset="0.63" stop-opacity="0.3"/><stop offset="0.64" stop-opacity="0.32"/><stop offset="0.65" stop-opacity="0.35"/><stop offset="0.66" stop-opacity="0.33"/><stop offset="0.67" stop-opacity="0.29"/><stop offset="0.68" stop-opacity="0.22"/><stop offset="0.7" stop-opacity="0.16"/><stop offset="0.71" stop-opacity="0.17"/><stop offset="0.72" stop-opacity="0.16"/><stop offset="0.73" stop-opacity="0.14"/><stop offset="0.74" stop-opacity="0.13"/><stop offset="0.75" stop-opacity="0.12"/><stop offset="0.76" stop-opacity="0.11"/><stop offset="0.77" stop-opacity="0.1"/><stop offset="0.78" stop-opacity="0.09"/><stop offset="0.79" stop-opacity="0.08"/><stop offset="0.8" stop-opacity="0.07"/><stop offset="0.82" stop-opacity="0.06"/><stop offset="0.83" stop-opacity="0.05"/><stop offset="0.84" stop-opacity="0.05"/><stop offset="0.85" stop-opacity="0.04"/><stop offset="0.86" stop-opacity="0.04"/><stop offset="0.87" stop-opacity="0.04"/><stop offset="0.88" stop-opacity="0.03"/><stop offset="0.89" stop-opacity="0.03"/><stop offset="0.9" stop-opacity="0.03"/><stop offset="0.91" stop-opacity="0.03"/><stop offset="0.92" stop-opacity="0.02"/><stop offset="0.93" stop-opacity="0.02"/><stop offset="0.95" stop-opacity="0.02"/><stop offset="0.96" stop-opacity="0.01"/><stop offset="0.97" stop-opacity="0.01"/><stop offset="0.98" stop-opacity="0.01"/><stop offset="0.99" stop-opacity="0"/><stop offset="1" stop-opacity="0"/></linearGradient><linearGradient id="g7" x1="0" y1="168" x2="0" y2="268" gradientUnits="userSpaceOnUse"><stop offset="0" stop-opacity="0"/><stop offset="0.01" stop-opacity="0.02"/><stop offset="0.02" stop-opacity="0.05"/><stop offset="0.03" stop-opacity="0.07"/><stop offset="0.04" stop-opacity="0.1"/><stop offset="0.05" stop-opacity="0.12"/><stop offset="0.06" stop-opacity="0.15"/><stop offset="0.07" stop-opacity="0.2"/><stop offset="0.08" stop-opacity="0.26"/><stop offset="0.09" stop-opacity="0.31"/><stop offset="0.1" stop-opacity="0.37"/><stop offset="0.11" stop-opacity="0.42"/><stop offset="0.12" stop-opacity="0.52"/><stop offset="0.13" stop-opacity="0.61"/><stop offset="0.14" stop-opacity="0.71"/><stop offset="0.15" stop-opacity="0.8"/><stop offset="0.16" stop-opacity="0.83"/><stop offset="0.17" stop-opacity="0.86"/><stop offset="0.18" stop-opacity="0.9"/><stop offset="0.19" stop-opacity="0.93"/><stop offset="0.2" stop-opacity="0.93"/><stop offset="0.21" stop-opacity="0.93"/><stop offset="0.22" stop-opacity="0.93"/><stop offset="0.23" stop-opacity="0.93"/><stop offset="0.24" stop-opacity="0.93"/><stop offset="0.25" stop-opacity="0.93"/><stop offset="0.26" stop-opacity="0.93"/><stop offset="0.27" stop-opacity="0.93"/><stop offset="0.28" stop-opacity="0.93"/><stop offset="0.29" stop-opacity="0.93"/><stop offset="0.3" stop-opacity="0.92"/><stop offset="0.31" stop-opacity="0.87"/><stop offset="0.32" stop-opacity="0.83"/><stop offset="0.33" stop-opacity="0.87"/><stop offset="0.34" stop-opacity="0.91"/><stop offset="0.35" stop-opacity="0.92"/><stop offset="0.36" stop-opacity="0.91"/><stop offset="0.37" stop-opacity="0.86"/><stop offset="0.38" stop-opacity="0.81"/><stop offset="0.39" stop-opacity="0.86"/><stop offset="0.4" stop-opacity="0.91"/><stop offset="0.41" stop-opacity="0.92"/><stop offset="0.42" stop-opacity="0.91"/><stop offset="0.43" stop-opacity="0.85"/><stop offset="0.44" stop-opacity="0.79"/><stop offset="0.45" stop-opacity="0.85"/><stop offset="0.46" stop-opacity="0.91"/><stop offset="0.47" stop-opacity="0.92"/><stop offset="0.48" stop-opacity="0.9"/><stop offset="0.49" stop-opacity="0.82"/><stop offset="0.5" stop-opacity="0.76"/><stop offset="0.51" stop-opacity="0.82"/><stop offset="0.52" stop-opacity="0.9"/><stop offset="0.53" stop-opacity="0.92"/><stop offset="0.54" stop-opacity="0.89"/><stop offset="0.55" stop-opacity="0.78"/><stop offset="0.56" stop-opacity="0.69"/><stop offset="0.57" stop-opacity="0.78"/><stop offset="0.58" stop-opacity="0.89"/><stop offset="0.59" stop-opacity="0.92"/><stop offset="0.6" stop-opacity="0.88"/><stop offset="0.61" stop-opacity="0.75"/><stop offset="0.62" stop-opacity="0.61"/><stop offset="0.63" stop-opacity="0.67"/><stop offset="0.64" stop-opacity="0.73"/><stop offset="0.65" stop-opacity="0.7"/><stop offset="0.66" stop-opacity="0.62"/><stop offset="0.67" stop-opacity="0.49"/><stop offset="0.68" stop-opacity="0.39"/><stop offset="0.69" stop-opacity="0.43"/><stop offset="0.7" stop-opacity="0.48"/><stop offset="0.71" stop-opacity="0.46"/><stop offset="0.72" stop-opacity="0.4"/><stop offset="0.73" stop-opacity="0.31"/><stop offset="0.74" stop-opacity="0.24"/><stop offset="0.75" stop-opacity="0.25"/><stop offset="0.76" stop-opacity="0.26"/><stop offset="0.77" stop-opacity="0.24"/><stop offset="0.78" stop-opacity="0.2"/><stop offset="0.79" stop-opacity="0.18"/><stop offset="0.8" stop-opacity="0.17"/><stop offset="0.81" stop-opacity="0.15"/><stop offset="0.82" stop-opacity="0.13"/><stop offset="0.83" stop-opacity="0.12"/><stop offset="0.84" stop-opacity="0.1"/><stop offset="0.85" stop-opacity="0.09"/><stop offset="0.86" stop-opacity="0.07"/><stop offset="0.87" stop-opacity="0.07"/><stop offset="0.88" stop-opacity="0.06"/><stop offset="0.89" stop-opacity="0.06"/><stop offset="0.9" stop-opacity="0.05"/><stop offset="0.91" stop-opacity="0.05"/><stop offset="0.92" stop-opacity="0.04"/><stop offset="0.93" stop-opacity="0.04"/><stop offset="0.94" stop-opacity="0.03"/><stop offset="0.95" stop-opacity="0.03"/><stop offset="0.96" stop-opacity="0.02"/><stop offset="0.97" stop-opacity="0.02"/><stop offset="0.98" stop-opacity="0.01"/><stop offset="0.99" stop-opacity="0"/><stop offset="1" stop-opacity="0"/></linearGradient><linearGradient id="g8" x1="0" y1="170" x2="0" y2="272" gradientUnits="userSpaceOnUse"><stop offset="0" stop-opacity="0"/><stop offset="0.01" stop-opacity="0.02"/><stop offset="0.02" stop-opacity="0.05"/><stop offset="0.03" stop-opacity="0.07"/><stop offset="0.04" stop-opacity="0.1"/><stop offset="0.05" stop-opacity="0.12"/><stop offset="0.06" stop-opacity="0.15"/><stop offset="0.07" stop-opacity="0.2"/><stop offset="0.08" stop-opacity="0.24"/><stop offset="0.09" stop-opacity="0.29"/><stop offset="0.1" stop-opacity="0.33"/><stop offset="0.11" stop-opacity="0.38"/><stop offset="0.12" stop-opacity="0.42"/><stop offset="0.13" stop-opacity="0.5"/><stop offset="0.14" stop-opacity="0.57"/><stop offset="0.15" stop-opacity="0.65"/><stop offset="0.16" stop-opacity="0.72"/><stop offset="0.17" stop-opacity="0.8"/><stop offset="0.18" stop-opacity="0.83"/><stop offset="0.19" stop-opacity="0.86"/><stop offset="0.2" stop-opacity="0.9"/><stop offset="0.21" stop-opacity="0.93"/><stop offset="0.22" stop-opacity="0.93"/><stop offset="0.23" stop-opacity="0.93"/><stop offset="0.24" stop-opacity="0.93"/><stop offset="0.25" stop-opacity="0.93"/><stop offset="0.25" stop-opacity="0.93"/><stop offset="0.26" stop-opacity="0.93"/><stop offset="0.27" stop-opacity="0.93"/><stop offset="0.28" stop-opacity="0.93"/><stop offset="0.29" stop-opacity="0.93"/><stop offset="0.3" stop-opacity="0.93"/><stop offset="0.31" stop-opacity="0.92"/><stop offset="0.32" stop-opacity="0.87"/><stop offset="0.33" stop-opacity="0.83"/><stop offset="0.34" stop-opacity="0.87"/><stop offset="0.35" stop-opacity="0.91"/><stop offset="0.36" stop-opacity="0.92"/><stop offset="0.37" stop-opacity="0.91"/><stop offset="0.38" stop-opacity="0.86"/><stop offset="0.39" stop-opacity="0.81"/><stop offset="0.4" stop-opacity="0.86"/><stop offset="0.41" stop-opacity="0.91"/><stop offset="0.42" stop-opacity="0.92"/><stop offset="0.43" stop-opacity="0.91"/><stop offset="0.44" stop-opacity="0.85"/><stop offset="0.45" stop-opacity="0.79"/><stop offset="0.46" stop-opacity="0.85"/><stop offset="0.47" stop-opacity="0.91"/><stop offset="0.48" stop-opacity="0.92"/><stop offset="0.49" stop-opacity="0.9"/><stop offset="0.5" stop-opacity="0.82"/><stop offset="0.51" stop-opacity="0.76"/><stop offset="0.52" stop-opacity="0.82"/><stop offset="0.53" stop-opacity="0.9"/><stop offset="0.54" stop-opacity="0.92"/><stop offset="0.55" stop-opacity="0.89"/><stop offset="0.56" stop-opacity="0.78"/><stop offset="0.57" stop-opacity="0.69"/><stop offset="0.58" stop-opacity="0.78"/><stop offset="0.59" stop-opacity="0.89"/><stop offset="0.6" stop-opacity="0.92"/><stop offset="0.61" stop-opacity="0.88"/><stop offset="0.62" stop-opacity="0.75"/><stop offset="0.63" stop-opacity="0.64"/><stop offset="0.64" stop-opacity="0.75"/><stop offset="0.65" stop-opacity="0.83"/><stop offset="0.66" stop-opacity="0.81"/><stop offset="0.67" stop-opacity="0.73"/><stop offset="0.68" stop-opacity="0.57"/><stop offset="0.69" stop-opacity="0.44"/><stop offset="0.7" stop-opacity="0.49"/><stop offset="0.71" stop-opacity="0.54"/><stop offset="0.72" stop-opacity="0.52"/><stop offset="0.73" stop-opacity="0.46"/><stop offset="0.74" stop-opacity="0.36"/><stop offset="0.75" stop-opacity="0.28"/><stop offset="0.75" stop-opacity="0.3"/><stop offset="0.76" stop-opacity="0.31"/><stop offset="0.77" stop-opacity="0.29"/><stop offset="0.78" stop-opacity="0.25"/><stop offset="0.79" stop-opacity="0.22"/><stop offset="0.8" stop-opacity="0.18"/><stop offset="0.81" stop-opacity="0.16"/><stop offset="0.82" stop-opacity="0.15"/><stop offset="0.83" stop-opacity="0.14"/><stop offset="0.84" stop-opacity="0.12"/><stop offset="0.85" stop-opacity="0.1"/><stop offset="0.86" stop-opacity="0.09"/><stop offset="0.87" stop-opacity="0.07"/><stop offset="0.88" stop-opacity="0.06"/><stop offset="0.89" stop-opacity="0.06"/><stop offset="0.9" stop-opacity="0.05"/><stop offset="0.91" stop-opacity="0.04"/><stop offset="0.92" stop-opacity="0.04"/><stop offset="0.93" stop-opacity="0.04"/><stop offset="0.94" stop-opacity="0.03"/><stop offset="0.95" stop-opacity="0.03"/><stop offset="0.96" stop-opacity="0.02"/><stop offset="0.97" stop-opacity="0.01"/><stop offset="0.98" stop-opacity="0.01"/><stop offset="0.99" stop-opacity="0.01"/><stop offset="1" stop-opacity="0"/></linearGradient><linearGradient id="g9" x1="0" y1="172" x2="0" y2="278" gradientUnits="userSpaceOnUse"><stop offset="0" stop-opacity="0"/><stop offset="0.01" stop-opacity="0.02"/><stop offset="0.02" stop-opacity="0.04"/><stop offset="0.03" stop-opacity="0.06"/><stop offset="0.04" stop-opacity="0.08"/><stop offset="0.05" stop-opacity="0.1"/><stop offset="0.06" stop-opacity="0.12"/><stop offset="0.07" stop-opacity="0.14"/><stop offset="0.08" stop-opacity="0.16"/><stop offset="0.08" stop-opacity="0.21"/><stop offset="0.09" stop-opacity="0.26"/><stop offset="0.1" stop-opacity="0.31"/><stop offset="0.11" stop-opacity="0.35"/><stop offset="0.12" stop-opacity="0.4"/><stop offset="0.13" stop-opacity="0.45"/><stop offset="0.14" stop-opacity="0.54"/><stop offset="0.15" stop-opacity="0.64"/><stop offset="0.16" stop-opacity="0.73"/><stop offset="0.17" stop-opacity="0.82"/><stop offset="0.18" stop-opacity="0.86"/><stop offset="0.19" stop-opacity="0.89"/><stop offset="0.2" stop-opacity="0.93"/><stop offset="0.21" stop-opacity="0.97"/><stop offset="0.22" stop-opacity="0.97"/><stop offset="0.23" stop-opacity="0.97"/><stop offset="0.24" stop-opacity="0.97"/><stop offset="0.25" stop-opacity="0.96"/><stop offset="0.25" stop-opacity="0.91"/><stop offset="0.26" stop-opacity="0.87"/><stop offset="0.27" stop-opacity="0.91"/><stop offset="0.28" stop-opacity="0.96"/><stop offset="0.29" stop-opacity="0.97"/><stop offset="0.3" stop-opacity="0.95"/><stop offset="0.31" stop-opacity="0.9"/><stop offset="0.32" stop-opacity="0.85"/><stop offset="0.33" stop-opacity="0.9"/><stop offset="0.34" stop-opacity="0.95"/><stop offset="0.35" stop-opacity="0.96"/><stop offset="0.36" stop-opacity="0.95"/><stop offset="0.37" stop-opacity="0.9"/><stop offset="0.38" stop-opacity="0.85"/><stop offset="0.39" stop-opacity="0.9"/><stop offset="0.4" stop-opacity="0.95"/><stop offset="0.41" stop-opacity="0.96"/><stop offset="0.42" stop-opacity="0.95"/><stop offset="0.42" stop-opacity="0.88"/><stop offset="0.43" stop-opacity="0.83"/><stop offset="0.44" stop-opacity="0.88"/><stop offset="0.45" stop-opacity="0.95"/><stop offset="0.46" stop-opacity="0.96"/><stop offset="0.47" stop-opacity="0.94"/><stop offset="0.48" stop-opacity="0.88"/><stop offset="0.49" stop-opacity="0.82"/><stop offset="0.5" stop-opacity="0.88"/><stop offset="0.51" stop-opacity="0.94"/><stop offset="0.52" stop-opacity="0.96"/><stop offset="0.53" stop-opacity="0.94"/><stop offset="0.54" stop-opacity="0.85"/><stop offset="0.55" stop-opacity="0.77"/><stop offset="0.56" stop-opacity="0.85"/><stop offset="0.57" stop-opacity="0.94"/><stop offset="0.58" stop-opacity="0.96"/><stop offset="0.58" stop-opacity="0.92"/><stop offset="0.59" stop-opacity="0.74"/><stop offset="0.6" stop-opacity="0.6"/><stop offset="0.61" stop-opacity="0.66"/><stop offset="0.62" stop-opacity="0.72"/><stop offset="0.63" stop-opacity="0.72"/><stop offset="0.64" stop-opacity="0.67"/><stop offset="0.65" stop-opacity="0.53"/><stop offset="0.66" stop-opacity="0.42"/><stop offset="0.67" stop-opacity="0.49"/><stop offset="0.68" stop-opacity="0.57"/><stop offset="0.69" stop-opacity="0.55"/><stop offset="0.7" stop-opacity="0.48"/><stop offset="0.71" stop-opacity="0.36"/><stop offset="0.72" stop-opacity="0.26"/><stop offset="0.73" stop-opacity="0.28"/><stop offset="0.74" stop-opacity="0.3"/><stop offset="0.75" stop-opacity="0.28"/><stop offset="0.75" stop-opacity="0.25"/><stop offset="0.76" stop-opacity="0.22"/><stop offset="0.77" stop-opacity="0.19"/><stop offset="0.78" stop-opacity="0.15"/><stop offset="0.79" stop-opacity="0.12"/><stop offset="0.8" stop-opacity="0.11"/><stop offset="0.81" stop-opacity="0.11"/><stop offset="0.82" stop-opacity="0.1"/><stop offset="0.83" stop-opacity="0.09"/><stop offset="0.84" stop-opacity="0.09"/><stop offset="0.85" stop-opacity="0.08"/><stop offset="0.86" stop-opacity="0.07"/><stop offset="0.87" stop-opacity="0.07"/><stop offset="0.88" stop-opacity="0.06"/><stop offset="0.89" stop-opacity="0.05"/><stop offset="0.9" stop-opacity="0.05"/><stop offset="0.91" stop-opacity="0.04"/><stop offset="0.92" stop-opacity="0.04"/><stop offset="0.92" stop-opacity="0.03"/><stop offset="0.93" stop-opacity="0.03"/><stop offset="0.94" stop-opacity="0.02"/><stop offset="0.95" stop-opacity="0.02"/><stop offset="0.96" stop-opacity="0.02"/><stop offset="0.97" stop-opacity="0.01"/><stop offset="0.98" stop-opacity="0.01"/><stop offset="0.99" stop-opacity="0"/><stop offset="1" stop-opacity="0"/></linearGradient><linearGradient id="g10" x1="0" y1="176" x2="0" y2="278" gradientUnits="userSpaceOnUse"><stop offset="0" stop-opacity="0"/><stop offset="0.01" stop-opacity="0.03"/><stop offset="0.02" stop-opacity="0.05"/><stop offset="0.03" stop-opacity="0.08"/><stop offset="0.04" stop-opacity="0.1"/><stop offset="0.05" stop-opacity="0.13"/><stop offset="0.06" stop-opacity="0.15"/><stop offset="0.07" stop-opacity="0.18"/><stop offset="0.08" stop-opacity="0.23"/><stop offset="0.09" stop-opacity="0.28"/><stop offset="0.1" stop-opacity="0.32"/><stop offset="0.11" stop-opacity="0.37"/><stop offset="0.12" stop-opacity="0.42"/><stop offset="0.13" stop-opacity="0.44"/><stop offset="0.14" stop-opacity="0.45"/><stop offset="0.15" stop-opacity="0.47"/><stop offset="0.16" stop-opacity="0.48"/><stop offset="0.17" stop-opacity="0.5"/><stop offset="0.18" stop-opacity="0.52"/><stop offset="0.19" stop-opacity="0.53"/><stop offset="0.2" stop-opacity="0.55"/><stop offset="0.21" stop-opacity="0.66"/><stop offset="0.22" stop-opacity="0.77"/><stop offset="0.23" stop-opacity="0.88"/><stop offset="0.24" stop-opacity="0.9"/><stop offset="0.25" stop-opacity="0.92"/><stop offset="0.25" stop-opacity="0.95"/><stop offset="0.26" stop-opacity="0.97"/><stop offset="0.27" stop-opacity="0.97"/><stop offset="0.28" stop-opacity="0.96"/><stop offset="0.29" stop-opacity="0.91"/><stop offset="0.3" stop-opacity="0.87"/><stop offset="0.31" stop-opacity="0.91"/><stop offset="0.32" stop-opacity="0.96"/><stop offset="0.33" stop-opacity="0.97"/><stop offset="0.34" stop-opacity="0.95"/><stop offset="0.35" stop-opacity="0.9"/><stop offset="0.36" stop-opacity="0.85"/><stop offset="0.37" stop-opacity="0.9"/><stop offset="0.38" stop-opacity="0.95"/><stop offset="0.39" stop-opacity="0.96"/><stop offset="0.4" stop-opacity="0.95"/><stop offset="0.41" stop-opacity="0.9"/><stop offset="0.42" stop-opacity="0.85"/><stop offset="0.43" stop-opacity="0.9"/><stop offset="0.44" stop-opacity="0.95"/><stop offset="0.45" stop-opacity="0.96"/><stop offset="0.46" stop-opacity="0.95"/><stop offset="0.47" stop-opacity="0.88"/><stop offset="0.48" stop-opacity="0.83"/><stop offset="0.49" stop-opacity="0.88"/><stop offset="0.5" stop-opacity="0.95"/><stop offset="0.51" stop-opacity="0.96"/><stop offset="0.52" stop-opacity="0.95"/><stop offset="0.53" stop-opacity="0.88"/><stop offset="0.54" stop-opacity="0.82"/><stop offset="0.55" stop-opacity="0.88"/><stop offset="0.56" stop-opacity="0.94"/><stop offset="0.57" stop-opacity="0.96"/><stop offset="0.58" stop-opacity="0.94"/><stop offset="0.59" stop-opacity="0.87"/><stop offset="0.6" stop-opacity="0.81"/><stop offset="0.61" stop-opacity="0.87"/><stop offset="0.62" stop-opacity="0.94"/><stop offset="0.63" stop-opacity="0.96"/><stop offset="0.64" stop-opacity="0.94"/><stop offset="0.65" stop-opacity="0.85"/><stop offset="0.66" stop-opacity="0.77"/><stop offset="0.67" stop-opacity="0.85"/><stop offset="0.68" stop-opacity="0.93"/><stop offset="0.69" stop-opacity="0.92"/><stop offset="0.7" stop-opacity="0.79"/><stop offset="0.71" stop-opacity="0.67"/><stop offset="0.72" stop-opacity="0.79"/><stop offset="0.73" stop-opacity="0.92"/><stop offset="0.74" stop-opacity="0.9"/><stop offset="0.75" stop-opacity="0.81"/><stop offset="0.75" stop-opacity="0.63"/><stop offset="0.76" stop-opacity="0.49"/><stop offset="0.77" stop-opacity="0.57"/><stop offset="0.78" stop-opacity="0.65"/><stop offset="0.79" stop-opacity="0.64"/><stop offset="0.8" stop-opacity="0.57"/><stop offset="0.81" stop-opacity="0.42"/><stop offset="0.82" stop-opacity="0.3"/><stop offset="0.83" stop-opacity="0.31"/><stop offset="0.84" stop-opacity="0.31"/><stop offset="0.85" stop-opacity="0.25"/><stop offset="0.86" stop-opacity="0.23"/><stop offset="0.87" stop-opacity="0.2"/><stop offset="0.88" stop-opacity="0.18"/><stop offset="0.89" stop-opacity="0.15"/><stop offset="0.9" stop-opacity="0.13"/><stop offset="0.91" stop-opacity="0.1"/><stop offset="0.92" stop-opacity="0.08"/><stop offset="0.93" stop-opacity="0.07"/><stop offset="0.94" stop-opacity="0.06"/><stop offset="0.95" stop-opacity="0.05"/><stop offset="0.96" stop-opacity="0.04"/><stop offset="0.97" stop-opacity="0.03"/><stop offset="0.98" stop-opacity="0.02"/><stop offset="0.99" stop-opacity="0.01"/><stop offset="1" stop-opacity="0"/></linearGradient><linearGradient id="g11" x1="0" y1="178" x2="0" y2="280" gradientUnits="userSpaceOnUse"><stop offset="0" stop-opacity="0"/><stop offset="0.01" stop-opacity="0.03"/><stop offset="0.02" stop-opacity="0.06"/><stop offset="0.03" stop-opacity="0.09"/><stop offset="0.04" stop-opacity="0.11"/><stop offset="0.05" stop-opacity="0.14"/><stop offset="0.06" stop-opacity="0.17"/><stop offset="0.07" stop-opacity="0.2"/><stop offset="0.08" stop-opacity="0.25"/><stop offset="0.09" stop-opacity="0.3"/><stop offset="0.1" stop-opacity="0.35"/><stop offset="0.11" stop-opacity="0.4"/><stop offset="0.12" stop-opacity="0.45"/><stop offset="0.13" stop-opacity="0.48"/><stop offset="0.14" stop-opacity="0.51"/><stop offset="0.15" stop-opacity="0.54"/><stop offset="0.16" stop-opacity="0.57"/><stop offset="0.17" stop-opacity="0.6"/><stop offset="0.18" stop-opacity="0.7"/><stop offset="0.19" stop-opacity="0.8"/><stop offset="0.2" stop-opacity="0.9"/><stop offset="0.21" stop-opacity="0.92"/><stop offset="0.22" stop-opacity="0.93"/><stop offset="0.23" stop-opacity="0.95"/><stop offset="0.24" stop-opacity="0.97"/><stop offset="0.25" stop-opacity="0.97"/><stop offset="0.25" stop-opacity="0.97"/><stop offset="0.26" stop-opacity="0.97"/><stop offset="0.27" stop-opacity="0.96"/><stop offset="0.28" stop-opacity="0.91"/><stop offset="0.29" stop-opacity="0.87"/><stop offset="0.3" stop-opacity="0.91"/><stop offset="0.31" stop-opacity="0.96"/><stop offset="0.32" stop-opacity="0.97"/><stop offset="0.33" stop-opacity="0.95"/><stop offset="0.34" stop-opacity="0.9"/><stop offset="0.35" stop-opacity="0.85"/><stop offset="0.36" stop-opacity="0.9"/><stop offset="0.37" stop-opacity="0.95"/><stop offset="0.38" stop-opacity="0.96"/><stop offset="0.39" stop-opacity="0.95"/><stop offset="0.4" stop-opacity="0.9"/><stop offset="0.41" stop-opacity="0.85"/><stop offset="0.42" stop-opacity="0.9"/><stop offset="0.43" stop-opacity="0.95"/><stop offset="0.44" stop-opacity="0.96"/><stop offset="0.45" stop-opacity="0.95"/><stop offset="0.46" stop-opacity="0.88"/><stop offset="0.47" stop-opacity="0.83"/><stop offset="0.48" stop-opacity="0.88"/><stop offset="0.49" stop-opacity="0.95"/><stop offset="0.5" stop-opacity="0.96"/><stop offset="0.51" stop-opacity="0.95"/><stop offset="0.52" stop-opacity="0.88"/><stop offset="0.53" stop-opacity="0.82"/><stop offset="0.54" stop-opacity="0.88"/><stop offset="0.55" stop-opacity="0.94"/><stop offset="0.56" stop-opacity="0.96"/><stop offset="0.57" stop-opacity="0.94"/><stop offset="0.58" stop-opacity="0.87"/><stop offset="0.59" stop-opacity="0.81"/><stop offset="0.6" stop-opacity="0.87"/><stop offset="0.61" stop-opacity="0.94"/><stop offset="0.62" stop-opacity="0.96"/><stop offset="0.63" stop-opacity="0.94"/><stop offset="0.64" stop-opacity="0.85"/><stop offset="0.65" stop-opacity="0.77"/><stop offset="0.66" stop-opacity="0.85"/><stop offset="0.67" stop-opacity="0.94"/><stop offset="0.68" stop-opacity="0.96"/><stop offset="0.69" stop-opacity="0.93"/><stop offset="0.7" stop-opacity="0.82"/><stop offset="0.71" stop-opacity="0.72"/><stop offset="0.72" stop-opacity="0.82"/><stop offset="0.73" stop-opacity="0.93"/><stop offset="0.74" stop-opacity="0.95"/><stop offset="0.75" stop-opacity="0.88"/><stop offset="0.75" stop-opacity="0.7"/><stop offset="0.76" stop-opacity="0.56"/><stop offset="0.77" stop-opacity="0.65"/><stop offset="0.78" stop-opacity="0.73"/><stop offset="0.79" stop-opacity="0.7"/><stop offset="0.8" stop-opacity="0.63"/><stop offset="0.81" stop-opacity="0.47"/><stop offset="0.82" stop-opacity="0.34"/><stop offset="0.83" stop-opacity="0.36"/><stop offset="0.84" stop-opacity="0.37"/><stop offset="0.85" stop-opacity="0.32"/><stop offset="0.86" stop-opacity="0.25"/><stop offset="0.87" stop-opacity="0.22"/><stop offset="0.88" stop-opacity="0.19"/><stop offset="0.89" stop-opacity="0.16"/><stop offset="0.9" stop-opacity="0.14"/><stop offset="0.91" stop-opacity="0.11"/><stop offset="0.92" stop-opacity="0.08"/><stop offset="0.93" stop-opacity="0.07"/><stop offset="0.94" stop-opacity="0.06"/><stop offset="0.95" stop-opacity="0.05"/><stop offset="0.96" stop-opacity="0.04"/><stop offset="0.97" stop-opacity="0.03"/><stop offset="0.98" stop-opacity="0.02"/><stop offset="0.99" stop-opacity="0.01"/><stop offset="1" stop-opacity="0"/></linearGradient><linearGradient id="g12" x1="0" y1="180" x2="0" y2="281" gradientUnits="userSpaceOnUse"><stop offset="0" stop-opacity="0"/><stop offset="0.01" stop-opacity="0.03"/><stop offset="0.02" stop-opacity="0.06"/><stop offset="0.03" stop-opacity="0.09"/><stop offset="0.04" stop-opacity="0.11"/><stop offset="0.05" stop-opacity="0.14"/><stop offset="0.06" stop-opacity="0.17"/><stop offset="0.07" stop-opacity="0.2"/><stop offset="0.08" stop-opacity="0.25"/><stop offset="0.09" stop-opacity="0.3"/><stop offset="0.1" stop-opacity="0.35"/><stop offset="0.11" stop-opacity="0.4"/><stop offset="0.12" stop-opacity="0.45"/><stop offset="0.13" stop-opacity="0.49"/><stop offset="0.14" stop-opacity="0.53"/><stop offset="0.15" stop-opacity="0.56"/><stop offset="0.16" stop-opacity="0.6"/><stop offset="0.17" stop-opacity="0.69"/><stop offset="0.18" stop-opacity="0.79"/><stop offset="0.19" stop-opacity="0.88"/><stop offset="0.2" stop-opacity="0.9"/><stop offset="0.21" stop-opacity="0.92"/><stop offset="0.22" stop-opacity="0.93"/><stop offset="0.23" stop-opacity="0.95"/><stop offset="0.24" stop-opacity="0.95"/><stop offset="0.25" stop-opacity="0.95"/><stop offset="0.26" stop-opacity="0.95"/><stop offset="0.27" stop-opacity="0.95"/><stop offset="0.28" stop-opacity="0.93"/><stop offset="0.29" stop-opacity="0.88"/><stop offset="0.3" stop-opacity="0.83"/><stop offset="0.31" stop-opacity="0.88"/><stop offset="0.32" stop-opacity="0.93"/><stop offset="0.33" stop-opacity="0.95"/><stop offset="0.34" stop-opacity="0.93"/><stop offset="0.35" stop-opacity="0.87"/><stop offset="0.36" stop-opacity="0.81"/><stop offset="0.37" stop-opacity="0.87"/><stop offset="0.38" stop-opacity="0.93"/><stop offset="0.39" stop-opacity="0.94"/><stop offset="0.4" stop-opacity="0.93"/><stop offset="0.41" stop-opacity="0.87"/><stop offset="0.42" stop-opacity="0.81"/><stop offset="0.43" stop-opacity="0.87"/><stop offset="0.44" stop-opacity="0.93"/><stop offset="0.45" stop-opacity="0.94"/><stop offset="0.46" stop-opacity="0.93"/><stop offset="0.47" stop-opacity="0.86"/><stop offset="0.48" stop-opacity="0.8"/><stop offset="0.49" stop-opacity="0.86"/><stop offset="0.5" stop-opacity="0.93"/><stop offset="0.5" stop-opacity="0.94"/><stop offset="0.51" stop-opacity="0.93"/><stop offset="0.52" stop-opacity="0.86"/><stop offset="0.53" stop-opacity="0.8"/><stop offset="0.54" stop-opacity="0.86"/><stop offset="0.55" stop-opacity="0.93"/><stop offset="0.56" stop-opacity="0.94"/><stop offset="0.57" stop-opacity="0.92"/><stop offset="0.58" stop-opacity="0.84"/><stop offset="0.59" stop-opacity="0.77"/><stop offset="0.6" stop-opacity="0.84"/><stop offset="0.61" stop-opacity="0.92"/><stop offset="0.62" stop-opacity="0.94"/><stop offset="0.63" stop-opacity="0.94"/><stop offset="0.64" stop-opacity="0.94"/><stop offset="0.65" stop-opacity="0.91"/><stop offset="0.66" stop-opacity="0.8"/><stop offset="0.67" stop-opacity="0.71"/><stop offset="0.68" stop-opacity="0.8"/><stop offset="0.69" stop-opacity="0.91"/><stop offset="0.7" stop-opacity="0.94"/><stop offset="0.71" stop-opacity="0.9"/><stop offset="0.72" stop-opacity="0.77"/><stop offset="0.73" stop-opacity="0.66"/><stop offset="0.74" stop-opacity="0.77"/><stop offset="0.75" stop-opacity="0.87"/><stop offset="0.76" stop-opacity="0.86"/><stop offset="0.77" stop-opacity="0.8"/><stop offset="0.78" stop-opacity="0.63"/><stop offset="0.79" stop-opacity="0.48"/><stop offset="0.8" stop-opacity="0.53"/><stop offset="0.81" stop-opacity="0.58"/><stop offset="0.82" stop-opacity="0.55"/><stop offset="0.83" stop-opacity="0.47"/><stop offset="0.84" stop-opacity="0.35"/><stop offset="0.85" stop-opacity="0.26"/><stop offset="0.86" stop-opacity="0.25"/><stop offset="0.87" stop-opacity="0.24"/><stop offset="0.88" stop-opacity="0.22"/><stop offset="0.89" stop-opacity="0.2"/><stop offset="0.9" stop-opacity="0.17"/><stop offset="0.91" stop-opacity="0.15"/><stop offset="0.92" stop-opacity="0.12"/><stop offset="0.93" stop-opacity="0.1"/><stop offset="0.94" stop-opacity="0.09"/><stop offset="0.95" stop-opacity="0.07"/><stop offset="0.96" stop-opacity="0.06"/><stop offset="0.97" stop-opacity="0.04"/><stop offset="0.98" stop-opacity="0.03"/><stop offset="0.99" stop-opacity="0.01"/><stop offset="1" stop-opacity="0"/></linearGradient><linearGradient id="gw" x1="0" y1="158" x2="0" y2="262" gradientUnits="userSpaceOnUse"><stop offset="0" stop-color="#fff" stop-opacity="0"/><stop offset="0.15" stop-color="#fff" stop-opacity="0.3"/><stop offset="0.35" stop-color="#fff" stop-opacity="1"/><stop offset="0.65" stop-color="#fff" stop-opacity="0.8"/><stop offset="1" stop-color="#fff" stop-opacity="0"/></linearGradient></defs>
<g filter="url(#lb)" fill="url(#gw)" opacity="0.17">
<rect x="310.9" y="158" width="5.3" height="104"/>
<rect x="327.6" y="158" width="5.3" height="104"/>
<rect x="345.3" y="158" width="3.4" height="104"/>
<rect x="362.1" y="158" width="4.5" height="104"/>
<rect x="379" y="158" width="4.4" height="104"/>
<rect x="395.8" y="158" width="4.3" height="104"/>
<rect x="411.6" y="158" width="4.3" height="104"/>
<rect x="428.3" y="158" width="3.4" height="104"/>
<rect x="444.1" y="158" width="3.4" height="104"/>
<rect x="459.9" y="158" width="3.8" height="104"/>
<rect x="476.7" y="158" width="3.3" height="104"/>
<rect x="493" y="158" width="4.7" height="104"/>
<rect x="295.5" y="158" width="3.5" height="104"/>
</g>
<g filter="url(#lb2)">
<rect x="299.7" y="166" width="10.9" height="74" fill="url(#g0)"/><rect x="316.5" y="170" width="10.8" height="75" fill="url(#g1)"/><rect x="333.2" y="166" width="11.8" height="84" fill="url(#g2)"/><rect x="349" y="168" width="12.8" height="77" fill="url(#g3)"/><rect x="366.9" y="168" width="11.8" height="94" fill="url(#g4)"/><rect x="383.7" y="168" width="11.8" height="90" fill="url(#g5)"/><rect x="400.4" y="166" width="10.9" height="92" fill="url(#g6)"/><rect x="416.2" y="168" width="11.8" height="100" fill="url(#g7)"/><rect x="432" y="170" width="11.8" height="102" fill="url(#g8)"/><rect x="447.8" y="172" width="11.8" height="106" fill="url(#g9)"/><rect x="464" y="176" width="12.4" height="102" fill="url(#g10)"/><rect x="480.3" y="178" width="12.4" height="102" fill="url(#g11)"/><rect x="498" y="180" width="12" height="101" fill="url(#g12)"/>
<rect x="358.4" y="180" width="3" height="34" fill="#000" opacity="0.4"/>
<ellipse cx="372.8" cy="182" rx="2.95" ry="6" fill="#fff" opacity="0.2"/>
<ellipse cx="389.6" cy="180" rx="2.95" ry="6" fill="#fff" opacity="0.2"/>
<ellipse cx="405.85" cy="181" rx="2.73" ry="6" fill="#fff" opacity="0.2"/>
<ellipse cx="422.1" cy="183" rx="2.95" ry="6" fill="#fff" opacity="0.2"/>
<ellipse cx="437.9" cy="187" rx="2.95" ry="6" fill="#fff" opacity="0.2"/>
<ellipse cx="453.7" cy="190" rx="2.95" ry="6" fill="#fff" opacity="0.13"/>
<ellipse cx="470.2" cy="199" rx="3.1" ry="6" fill="#fff" opacity="0.13"/>
<ellipse cx="486.5" cy="198" rx="3.1" ry="6" fill="#fff" opacity="0.13"/>
<ellipse cx="504" cy="199" rx="3" ry="6" fill="#fff" opacity="0.13"/>
<rect x="299.9" y="174" width="2" height="22" fill="#000" opacity="0.18"/>
<rect x="308.6" y="174" width="2" height="22" fill="#000" opacity="0.18"/>
<rect x="316.7" y="179" width="2" height="25" fill="#000" opacity="0.18"/>
<rect x="325.3" y="179" width="2" height="25" fill="#000" opacity="0.18"/>
</g><g filter="url(#lb3)">
<rect x="283.5" y="173.3" width="11" height="3.4" fill="#000" opacity="0.3"/>
<rect x="283.5" y="178.3" width="11" height="3.4" fill="#000" opacity="0.35"/>
<rect x="283.5" y="183.3" width="11" height="3.4" fill="#000" opacity="0.35"/>
<rect x="283.5" y="188.8" width="11" height="3.4" fill="#000" opacity="0.35"/>
<rect x="283.5" y="194.3" width="11" height="3.4" fill="#000" opacity="0.35"/>
<rect x="283.5" y="199.8" width="11" height="3.4" fill="#000" opacity="0.38"/>
<rect x="283.5" y="204.3" width="11" height="3.4" fill="#000" opacity="0.45"/>
<rect x="283.5" y="209.1" width="11" height="3.4" fill="#000" opacity="0.48"/>
<rect x="283.5" y="214.8" width="11" height="3.4" fill="#000" opacity="0.45"/>
<rect x="283.5" y="219.5" width="11" height="3.4" fill="#000" opacity="0.45"/>
<rect x="283.5" y="225.3" width="11" height="3.4" fill="#000" opacity="0.45"/>
<rect x="283.5" y="232.1" width="11" height="3.4" fill="#000" opacity="0.42"/>
<rect x="283.5" y="237.9" width="11" height="3.4" fill="#000" opacity="0.42"/>
<rect x="283.5" y="244.8" width="11" height="3.4" fill="#000" opacity="0.42"/>
<rect x="283.5" y="255.3" width="11" height="3.4" fill="#000" opacity="0.42"/>
<rect x="283.5" y="269.1" width="11" height="3.4" fill="#000" opacity="0.35"/>
<rect x="283.5" y="171" width="11" height="36" fill="#000" opacity="0.68"/><rect x="283.5" y="205" width="11" height="40" fill="#000" opacity="0.22"/>
</g>
<g filter="url(#lb)" fill="#dadada" opacity="0.8">
<rect x="301.5" y="150.5" width="9.3" height="8"/>
<rect x="318.5" y="150.5" width="9.5" height="8"/>
<rect x="336" y="150.5" width="9.5" height="8"/>
<rect x="353.5" y="150.5" width="9.2" height="8"/>
<rect x="367.4" y="150.5" width="13.2" height="8"/>
<rect x="384.5" y="150.5" width="13" height="8"/>
<rect x="401.7" y="150.5" width="14.1" height="8"/>
<rect x="419.7" y="150.5" width="9.2" height="8"/>
<rect x="432.3" y="150.5" width="9.1" height="8"/>
<rect x="450.1" y="150.5" width="8.6" height="8"/>
<rect x="467.4" y="150.5" width="9.1" height="8"/>
<rect x="480.2" y="150.5" width="13.7" height="8"/>
<rect x="498.1" y="150.5" width="8.7" height="8"/>
<rect x="282" y="151" width="18" height="7"/>
</g>
<text transform="translate(301.78,157.18) scale(0.09121,0.100)" style="font-family:'Liberation Serif',serif;font-size:82.1px;" fill="#111" stroke="#111" stroke-width="1.5">B6</text>
<text transform="translate(318.78,157.18) scale(0.09332,0.100)" style="font-family:'Liberation Serif',serif;font-size:82.1px;" fill="#111" stroke="#111" stroke-width="1.5">B7</text>
<text transform="translate(336.28,157.18) scale(0.09411,0.100)" style="font-family:'Liberation Serif',serif;font-size:82.1px;" fill="#111" stroke="#111" stroke-width="1.5">B8</text>
<text transform="translate(353.78,157.18) scale(0.09103,0.100)" style="font-family:'Liberation Serif',serif;font-size:82.1px;" fill="#111" stroke="#111" stroke-width="1.5">B9</text>
<text transform="translate(367.68,157.18) scale(0.09287,0.100)" style="font-family:'Liberation Serif',serif;font-size:82.1px;" fill="#111" stroke="#111" stroke-width="1.5">B10</text>
<text transform="translate(384.78,157.18) scale(0.09262,0.100)" style="font-family:'Liberation Serif',serif;font-size:82.1px;" fill="#111" stroke="#111" stroke-width="1.5">B11</text>
<text transform="translate(401.96,157.18) scale(0.10079,0.100)" style="font-family:'Liberation Serif',serif;font-size:82.1px;" fill="#111" stroke="#111" stroke-width="1.5">B12</text>
<text transform="translate(419.88,157.18) scale(0.09370,0.100)" style="font-family:'Liberation Serif',serif;font-size:82.1px;" fill="#111" stroke="#111" stroke-width="1.5">C1</text>
<text transform="translate(432.49,157.18) scale(0.09077,0.100)" style="font-family:'Liberation Serif',serif;font-size:82.1px;" fill="#111" stroke="#111" stroke-width="1.5">C3</text>
<text transform="translate(450.32,157.18) scale(0.08444,0.100)" style="font-family:'Liberation Serif',serif;font-size:82.1px;" fill="#111" stroke="#111" stroke-width="1.5">C6</text>
<text transform="translate(467.59,157.18) scale(0.09093,0.100)" style="font-family:'Liberation Serif',serif;font-size:82.1px;" fill="#111" stroke="#111" stroke-width="1.5">C9</text>
<text transform="translate(480.37,157.18) scale(0.09848,0.100)" style="font-family:'Liberation Serif',serif;font-size:82.1px;" fill="#111" stroke="#111" stroke-width="1.5">C12</text>
<text transform="translate(498.41,157.18) scale(0.08240,0.100)" style="font-family:'Liberation Serif',serif;font-size:82.1px;" fill="#111" stroke="#111" stroke-width="1.5">D2</text>
<text transform="translate(282.89,157.13) scale(0.07148,0.100)" style="font-family:'Liberation Serif',serif;font-size:74.85px;" fill="#444">mol pls</text>
<text transform="translate(-0.09,330.14) scale(0.08925,0.100)" style="font-family:'Liberation Sans',sans-serif;font-size:262.71px;font-weight:bold;" fill="#000">C</text>
<line x1="47.6" y1="337" x2="47.6" y2="644.5" stroke="#a0a0a0" stroke-width="1.4"/>
<line x1="47" y1="644.3" x2="234.8" y2="644.3" stroke="#a0a0a0" stroke-width="1.3"/>
<line x1="44.6" y1="644" x2="47.6" y2="644" stroke="#a0a0a0" stroke-width="1"/>
<text transform="translate(33.12,649.92) scale(0.10000,0.100)" style="font-family:'Liberation Sans',sans-serif;font-size:137px;" fill="#111">0</text>
<line x1="44.6" y1="585.6" x2="47.6" y2="585.6" stroke="#a0a0a0" stroke-width="1"/>
<text transform="translate(25.5,591.52) scale(0.10000,0.100)" style="font-family:'Liberation Sans',sans-serif;font-size:137px;" fill="#111">20</text>
<line x1="44.6" y1="527.2" x2="47.6" y2="527.2" stroke="#a0a0a0" stroke-width="1"/>
<text transform="translate(25.5,533.12) scale(0.10000,0.100)" style="font-family:'Liberation Sans',sans-serif;font-size:137px;" fill="#111">40</text>
<line x1="44.6" y1="468.8" x2="47.6" y2="468.8" stroke="#a0a0a0" stroke-width="1"/>
<text transform="translate(25.5,474.72) scale(0.10000,0.100)" style="font-family:'Liberation Sans',sans-serif;font-size:137px;" fill="#111">60</text>
<line x1="44.6" y1="410.4" x2="47.6" y2="410.4" stroke="#a0a0a0" stroke-width="1"/>
<text transform="translate(25.5,416.32) scale(0.10000,0.100)" style="font-family:'Liberation Sans',sans-serif;font-size:137px;" fill="#111">80</text>
<line x1="44.6" y1="352" x2="47.6" y2="352" stroke="#a0a0a0" stroke-width="1"/>
<text transform="translate(17.88,357.92) scale(0.10000,0.100)" style="font-family:'Liberation Sans',sans-serif;font-size:137px;" fill="#111">100</text>
<line x1="47.7" y1="644.3" x2="47.7" y2="647.3" stroke="#a0a0a0" stroke-width="1"/>
<text transform="translate(44.01,663.17) scale(0.10000,0.100)" style="font-family:'Liberation Sans',sans-serif;font-size:132.77px;" fill="#111">0</text>
<line x1="110.1" y1="644.3" x2="110.1" y2="647.3" stroke="#a0a0a0" stroke-width="1"/>
<text transform="translate(102.71,663.17) scale(0.10000,0.100)" style="font-family:'Liberation Sans',sans-serif;font-size:132.77px;" fill="#111">50</text>
<line x1="172.5" y1="644.3" x2="172.5" y2="647.3" stroke="#a0a0a0" stroke-width="1"/>
<text transform="translate(161.18,663.17) scale(0.10000,0.100)" style="font-family:'Liberation Sans',sans-serif;font-size:132.77px;" fill="#111">100</text>
<line x1="234.9" y1="644.3" x2="234.9" y2="647.3" stroke="#a0a0a0" stroke-width="1"/>
<text transform="translate(223.58,663.17) scale(0.10000,0.100)" style="font-family:'Liberation Sans',sans-serif;font-size:132.77px;" fill="#111">150</text>
<text transform="translate(108.14,679.9) scale(0.10000,0.100)" style="font-family:'Liberation Sans',sans-serif;font-size:138.08px;font-weight:bold;letter-spacing:6.04px;" fill="#111">Time (min)</text>
<text transform="rotate(-90) translate(-543.06,11.7) scale(0.10000,0.100)" style="font-family:'Liberation Sans',sans-serif;font-size:143.9px;font-weight:bold;letter-spacing:-0.06px;" fill="#111">Residual VWF:CB (%)</text>
<path d="M103.86,355.4V396.9M100.86,355.4H106.86M100.86,396.9H106.86" stroke="#6a6a6a" stroke-width="1.2" fill="none"/>
<path d="M103.86,372.6V372.6M100.86,372.6H106.86M100.86,372.6H106.86" stroke="#6a6a6a" stroke-width="1.2" fill="none"/>
<path d="M160.02,501V529.1M157.02,501H163.02M157.02,529.1H163.02" stroke="#6a6a6a" stroke-width="1.2" fill="none"/>
<path d="M216.18,508V545.4M213.18,508H219.18M213.18,545.4H219.18" stroke="#6a6a6a" stroke-width="1.2" fill="none"/>
<path d="M160.02,548.2V586.3M157.02,548.2H163.02M157.02,586.3H163.02" stroke="#6a6a6a" stroke-width="1.2" fill="none"/>
<path d="M216.18,603.8V612.3M213.18,603.8H219.18M213.18,612.3H219.18" stroke="#6a6a6a" stroke-width="1.2" fill="none"/>
<polyline points="47.7,352 103.86,378.72 160.02,639.04 216.18,644" fill="none" stroke="#000" stroke-width="1" />
<polyline points="47.7,352 103.86,377.4 160.02,566.62 216.18,608.08" fill="none" stroke="#000" stroke-width="2" stroke-dasharray="2.6,4.4" />
<polyline points="47.7,352 103.86,365.14 160.02,514.64 216.18,526.62" fill="none" stroke="#000" stroke-width="2.1" />
<circle cx="47.7" cy="352" r="3.5" fill="#fff" stroke="#000" stroke-width="0.9"/>
<circle cx="103.86" cy="377.4" r="3.5" fill="#fff" stroke="#000" stroke-width="0.9"/>
<circle cx="160.02" cy="566.62" r="3.5" fill="#fff" stroke="#000" stroke-width="0.9"/>
<circle cx="216.18" cy="608.08" r="3.5" fill="#fff" stroke="#000" stroke-width="0.9"/>
<rect x="44.2" y="348.5" width="7" height="7" fill="#000"/>
<rect x="100.36" y="375.22" width="7" height="7" fill="#000"/>
<rect x="156.52" y="635.54" width="7" height="7" fill="#000"/>
<rect x="212.68" y="640.5" width="7" height="7" fill="#000"/>
<path d="M103.86,360.64 L107.86,368.14 L99.86,368.14 Z" fill="#000"/>
<path d="M160.02,510.14 L164.02,517.64 L156.02,517.64 Z" fill="#000"/>
<path d="M216.18,522.12 L220.18,529.62 L212.18,529.62 Z" fill="#000"/>
<rect x="161.5" y="349" width="85" height="23" fill="#fff" stroke="#333" stroke-width="1"/>
<text transform="translate(176.84,364.8) scale(0.10515,0.100)" style="font-family:'Liberation Serif',serif;font-size:114.54px;font-weight:bold;" fill="#111">1.5M Urea</text>
<rect x="176.9" y="379.9" width="69.7" height="41" fill="#fff" stroke="#a0a0a0" stroke-width="1"/>
<line x1="179.3" y1="387.8" x2="209.6" y2="387.8" stroke="#000" stroke-width="1.6"/>
<path d="M194.9,384.4 L198,390 L191.8,390 Z" fill="#000"/>
<path d="M179.3,401.1 H182.3 M188,401.1 H191 M197.6,401.1 H199.6 M205.3,401.1 H208.9" stroke="#000" stroke-width="1.6"/>
<circle cx="194.5" cy="401.1" r="2" fill="#fff" stroke="#000" stroke-width="0.8"/>
<line x1="179.3" y1="415.8" x2="209.6" y2="415.8" stroke="#000" stroke-width="0.9"/>
<rect x="192.3" y="413.5" width="4.4" height="4.6" fill="#000"/>
<text transform="translate(212,389.8) scale(0.10000,0.100)" style="font-family:'Liberation Sans',sans-serif;font-size:78.49px;font-weight:bold;letter-spacing:0.26px;" fill="#111">AB VWF</text>
<text transform="translate(211.88,403.7) scale(0.10000,0.100)" style="font-family:'Liberation Sans',sans-serif;font-size:78.49px;font-weight:bold;letter-spacing:2.96px;" fill="#111">O VWF</text>
<text transform="translate(212.23,417.2) scale(0.10000,0.100)" style="font-family:'Liberation Sans',sans-serif;font-size:85.76px;font-weight:bold;letter-spacing:-3.63px;" fill="#111">Bombay</text>
<text transform="translate(275.88,330.2) scale(0.10187,0.100)" style="font-family:'Liberation Sans',sans-serif;font-size:252.91px;font-weight:bold;" fill="#000">D</text>
<rect x="278.9" y="338.8" width="240.3" height="162.9" fill="none" stroke="#5a5a5a" stroke-width="1.1"/>
<line x1="323" y1="351.3" x2="323" y2="462.8" stroke="#a0a0a0" stroke-width="1.2"/>
<line x1="323" y1="461.3" x2="509.3" y2="461.3" stroke="#a0a0a0" stroke-width="1.1"/>
<line x1="320.6" y1="461.3" x2="323" y2="461.3" stroke="#a0a0a0" stroke-width="1"/>
<text transform="translate(311.69,465.97) scale(0.08000,0.100)" style="font-family:'Liberation Sans',sans-serif;font-size:135.59px;" fill="#111" stroke="#111" stroke-width="3">0</text>
<line x1="320.6" y1="439.3" x2="323" y2="439.3" stroke="#a0a0a0" stroke-width="1"/>
<text transform="translate(305.66,443.97) scale(0.08000,0.100)" style="font-family:'Liberation Sans',sans-serif;font-size:135.59px;" fill="#111" stroke="#111" stroke-width="3">20</text>
<line x1="320.6" y1="417.3" x2="323" y2="417.3" stroke="#a0a0a0" stroke-width="1"/>
<text transform="translate(305.66,421.97) scale(0.08000,0.100)" style="font-family:'Liberation Sans',sans-serif;font-size:135.59px;" fill="#111" stroke="#111" stroke-width="3">40</text>
<line x1="320.6" y1="395.3" x2="323" y2="395.3" stroke="#a0a0a0" stroke-width="1"/>
<text transform="translate(305.66,399.97) scale(0.08000,0.100)" style="font-family:'Liberation Sans',sans-serif;font-size:135.59px;" fill="#111" stroke="#111" stroke-width="3">60</text>
<line x1="320.6" y1="373.3" x2="323" y2="373.3" stroke="#a0a0a0" stroke-width="1"/>
<text transform="translate(305.66,377.97) scale(0.08000,0.100)" style="font-family:'Liberation Sans',sans-serif;font-size:135.59px;" fill="#111" stroke="#111" stroke-width="3">80</text>
<line x1="320.6" y1="351.3" x2="323" y2="351.3" stroke="#a0a0a0" stroke-width="1"/>
<text transform="translate(299.63,355.97) scale(0.08000,0.100)" style="font-family:'Liberation Sans',sans-serif;font-size:135.59px;" fill="#111" stroke="#111" stroke-width="3">100</text>
<line x1="323.4" y1="461.3" x2="323.4" y2="463.6" stroke="#a0a0a0" stroke-width="1"/>
<text transform="translate(320.38,477.27) scale(0.08000,0.100)" style="font-family:'Liberation Sans',sans-serif;font-size:135.59px;" fill="#111" stroke="#111" stroke-width="3">0</text>
<line x1="370.6" y1="461.3" x2="370.6" y2="463.6" stroke="#a0a0a0" stroke-width="1"/>
<text transform="translate(364.56,477.27) scale(0.08000,0.100)" style="font-family:'Liberation Sans',sans-serif;font-size:135.59px;" fill="#111" stroke="#111" stroke-width="3">50</text>
<line x1="416.8" y1="461.3" x2="416.8" y2="463.6" stroke="#a0a0a0" stroke-width="1"/>
<text transform="translate(407.55,477.27) scale(0.08000,0.100)" style="font-family:'Liberation Sans',sans-serif;font-size:135.59px;" fill="#111" stroke="#111" stroke-width="3">100</text>
<line x1="462" y1="461.3" x2="462" y2="463.6" stroke="#a0a0a0" stroke-width="1"/>
<text transform="translate(452.75,477.27) scale(0.08000,0.100)" style="font-family:'Liberation Sans',sans-serif;font-size:135.59px;" fill="#111" stroke="#111" stroke-width="3">150</text>
<line x1="509.2" y1="461.3" x2="509.2" y2="463.6" stroke="#a0a0a0" stroke-width="1"/>
<text transform="translate(500.09,477.27) scale(0.08000,0.100)" style="font-family:'Liberation Sans',sans-serif;font-size:135.59px;" fill="#111" stroke="#111" stroke-width="3">200</text>
<text transform="translate(391.98,492.6) scale(0.07839,0.100)" style="font-family:'Liberation Sans',sans-serif;font-size:140.99px;font-weight:bold;" fill="#111">Time (min)</text>
<text transform="rotate(-90) translate(-486.58,294.4) scale(0.08600,0.100)" style="font-family:'Liberation Sans',sans-serif;font-size:135.18px;font-weight:bold;letter-spacing:15.75px;" fill="#111">Residual VWF:CB (%)</text>
<rect x="444.5" y="359.6" width="65.3" height="20.6" fill="#fff" stroke="#3a3a3a" stroke-width="1"/>
<text transform="translate(452.03,373.9) scale(0.10516,0.100)" style="font-family:'Liberation Serif',serif;font-size:103.85px;font-weight:bold;" fill="#111">1M Urea</text>
<polyline points="323,351.3 406.7,418.95 448.55,448.98 490.4,461.3" fill="none" stroke="#000" stroke-width="0.9" />
<polyline points="323,351.3 406.7,381.99 448.55,426.43 490.4,446.34" fill="none" stroke="#000" stroke-width="1.6" stroke-dasharray="2.3,3.2" />
<polyline points="323,351.3 406.7,376.27 448.55,416.97 490.4,437.21" fill="none" stroke="#000" stroke-width="1.8" />
<circle cx="406.7" cy="381.99" r="1.9" fill="#fff" stroke="#000" stroke-width="0.7"/>
<circle cx="448.55" cy="426.43" r="1.9" fill="#fff" stroke="#000" stroke-width="0.7"/>
<circle cx="490.4" cy="446.34" r="1.9" fill="#fff" stroke="#000" stroke-width="0.7"/>
<rect x="321.1" y="349.4" width="3.8" height="3.8" fill="#000"/>
<rect x="404.8" y="417.05" width="3.8" height="3.8" fill="#000"/>
<rect x="446.65" y="447.08" width="3.8" height="3.8" fill="#000"/>
<rect x="488.5" y="459.4" width="3.8" height="3.8" fill="#000"/>
<path d="M406.7,373.67 L409,377.87 L404.4,377.87 Z" fill="#000"/>
<path d="M448.55,414.37 L450.85,418.57 L446.25,418.57 Z" fill="#000"/>
<path d="M490.4,434.61 L492.7,438.81 L488.1,438.81 Z" fill="#000"/>
<rect x="278.9" y="512.6" width="240.3" height="163.1" fill="none" stroke="#5a5a5a" stroke-width="1.1"/>
<line x1="323" y1="525.3" x2="323" y2="636.8" stroke="#a0a0a0" stroke-width="1.2"/>
<line x1="323" y1="635.3" x2="509.3" y2="635.3" stroke="#a0a0a0" stroke-width="1.1"/>
<line x1="320.6" y1="635.3" x2="323" y2="635.3" stroke="#a0a0a0" stroke-width="1"/>
<text transform="translate(312.89,639.97) scale(0.08000,0.100)" style="font-family:'Liberation Sans',sans-serif;font-size:135.59px;" fill="#111" stroke="#111" stroke-width="3">0</text>
<line x1="320.6" y1="613.3" x2="323" y2="613.3" stroke="#a0a0a0" stroke-width="1"/>
<text transform="translate(306.86,617.97) scale(0.08000,0.100)" style="font-family:'Liberation Sans',sans-serif;font-size:135.59px;" fill="#111" stroke="#111" stroke-width="3">20</text>
<line x1="320.6" y1="591.3" x2="323" y2="591.3" stroke="#a0a0a0" stroke-width="1"/>
<text transform="translate(306.86,595.97) scale(0.08000,0.100)" style="font-family:'Liberation Sans',sans-serif;font-size:135.59px;" fill="#111" stroke="#111" stroke-width="3">40</text>
<line x1="320.6" y1="569.3" x2="323" y2="569.3" stroke="#a0a0a0" stroke-width="1"/>
<text transform="translate(306.86,573.97) scale(0.08000,0.100)" style="font-family:'Liberation Sans',sans-serif;font-size:135.59px;" fill="#111" stroke="#111" stroke-width="3">60</text>
<line x1="320.6" y1="547.3" x2="323" y2="547.3" stroke="#a0a0a0" stroke-width="1"/>
<text transform="translate(306.86,551.97) scale(0.08000,0.100)" style="font-family:'Liberation Sans',sans-serif;font-size:135.59px;" fill="#111" stroke="#111" stroke-width="3">80</text>
<line x1="320.6" y1="525.3" x2="323" y2="525.3" stroke="#a0a0a0" stroke-width="1"/>
<text transform="translate(300.83,529.97) scale(0.08000,0.100)" style="font-family:'Liberation Sans',sans-serif;font-size:135.59px;" fill="#111" stroke="#111" stroke-width="3">100</text>
<line x1="323.4" y1="635.3" x2="323.4" y2="637.6" stroke="#a0a0a0" stroke-width="1"/>
<text transform="translate(320.38,652.77) scale(0.08000,0.100)" style="font-family:'Liberation Sans',sans-serif;font-size:135.59px;" fill="#111" stroke="#111" stroke-width="3">0</text>
<line x1="370.6" y1="635.3" x2="370.6" y2="637.6" stroke="#a0a0a0" stroke-width="1"/>
<text transform="translate(364.56,652.77) scale(0.08000,0.100)" style="font-family:'Liberation Sans',sans-serif;font-size:135.59px;" fill="#111" stroke="#111" stroke-width="3">50</text>
<line x1="416.8" y1="635.3" x2="416.8" y2="637.6" stroke="#a0a0a0" stroke-width="1"/>
<text transform="translate(407.55,652.77) scale(0.08000,0.100)" style="font-family:'Liberation Sans',sans-serif;font-size:135.59px;" fill="#111" stroke="#111" stroke-width="3">100</text>
<line x1="462" y1="635.3" x2="462" y2="637.6" stroke="#a0a0a0" stroke-width="1"/>
<text transform="translate(452.75,652.77) scale(0.08000,0.100)" style="font-family:'Liberation Sans',sans-serif;font-size:135.59px;" fill="#111" stroke="#111" stroke-width="3">150</text>
<line x1="509.2" y1="635.3" x2="509.2" y2="637.6" stroke="#a0a0a0" stroke-width="1"/>
<text transform="translate(500.09,652.77) scale(0.08000,0.100)" style="font-family:'Liberation Sans',sans-serif;font-size:135.59px;" fill="#111" stroke="#111" stroke-width="3">200</text>
<text transform="translate(391.98,668.1) scale(0.07839,0.100)" style="font-family:'Liberation Sans',sans-serif;font-size:140.99px;font-weight:bold;" fill="#111">Time (min)</text>
<text transform="rotate(-90) translate(-661.18,294.4) scale(0.08600,0.100)" style="font-family:'Liberation Sans',sans-serif;font-size:135.18px;font-weight:bold;letter-spacing:15.75px;" fill="#111">Residual VWF:CB (%)</text>
<rect x="444.5" y="527.1" width="65.3" height="20.6" fill="#fff" stroke="#3a3a3a" stroke-width="1"/>
<text transform="translate(452.45,541.4) scale(0.10409,0.100)" style="font-family:'Liberation Serif',serif;font-size:103.85px;font-weight:bold;" fill="#111">2M Urea</text>
<polyline points="323,525.3 406.7,611.43 448.55,635.3 490.4,635.3" fill="none" stroke="#000" stroke-width="0.9" />
<polyline points="323,525.3 406.7,601.42 448.55,623.53 490.4,624.96" fill="none" stroke="#000" stroke-width="1.6" stroke-dasharray="2.3,3.2" />
<polyline points="323,525.3 406.7,596.47 448.55,622.1 490.4,623.53" fill="none" stroke="#000" stroke-width="1.8" />
<circle cx="406.7" cy="601.42" r="1.9" fill="#fff" stroke="#000" stroke-width="0.7"/>
<circle cx="448.55" cy="623.53" r="1.9" fill="#fff" stroke="#000" stroke-width="0.7"/>
<circle cx="490.4" cy="624.96" r="1.9" fill="#fff" stroke="#000" stroke-width="0.7"/>
<rect x="321.1" y="523.4" width="3.8" height="3.8" fill="#000"/>
<rect x="404.8" y="609.53" width="3.8" height="3.8" fill="#000"/>
<rect x="446.65" y="633.4" width="3.8" height="3.8" fill="#000"/>
<rect x="488.5" y="633.4" width="3.8" height="3.8" fill="#000"/>
<path d="M406.7,593.87 L409,598.07 L404.4,598.07 Z" fill="#000"/>
<path d="M448.55,619.5 L450.85,623.7 L446.25,623.7 Z" fill="#000"/>
<path d="M490.4,620.93 L492.7,625.13 L488.1,625.13 Z" fill="#000"/>
</svg>
</body></html>
